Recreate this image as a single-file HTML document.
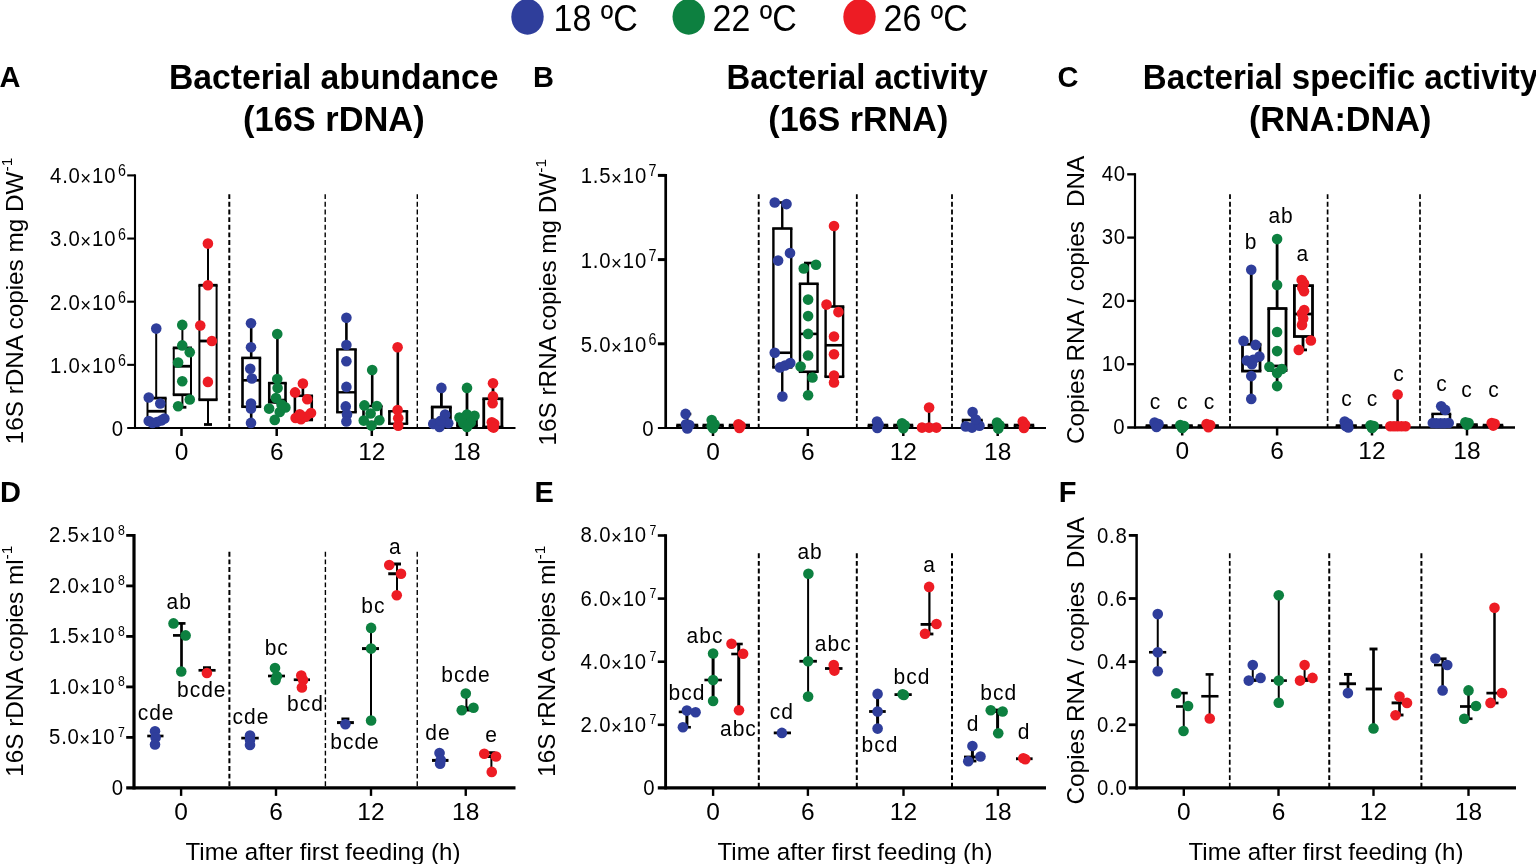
<!DOCTYPE html>
<html lang="en"><head><meta charset="utf-8"><title>Bacterial abundance and activity</title>
<style>
html,body{margin:0;padding:0;background:#fff;}
body{width:1536px;height:864px;overflow:hidden;}
svg{display:block;font-family:'Liberation Sans', sans-serif;}
text{fill:#000;}
</style></head><body>
<svg width="1536" height="864" viewBox="0 0 1536 864">
<rect width="1536" height="864" fill="#fff"/>
<ellipse cx="527.5" cy="16.8" rx="16.2" ry="17.9" fill="#2f3e9b"/>
<ellipse cx="688.7" cy="16.8" rx="16.2" ry="17.9" fill="#0d8040"/>
<ellipse cx="859.5" cy="16.8" rx="16.2" ry="17.9" fill="#ed1c24"/>
<text transform="translate(553.5,30.8) scale(1,1.075)" font-size="34">18 ºC</text>
<text transform="translate(712.5,30.8) scale(1,1.075)" font-size="34">22 ºC</text>
<text transform="translate(883.5,30.8) scale(1,1.075)" font-size="34">26 ºC</text>
<text transform="translate(333.7,89.4) scale(1.006,1.04)" font-size="33.5" text-anchor="middle" font-weight="bold">Bacterial abundance</text>
<text transform="translate(333.85,130.5) scale(1.027,1.04)" font-size="33.5" text-anchor="middle" font-weight="bold">(16S rDNA)</text>
<text transform="translate(857.1,89.4) scale(0.981,1.04)" font-size="33.5" text-anchor="middle" font-weight="bold">Bacterial activity</text>
<text transform="translate(858.3,130.5) scale(1.018,1.04)" font-size="33.5" text-anchor="middle" font-weight="bold">(16S rRNA)</text>
<text transform="translate(1340.55,89.4) scale(0.988,1.04)" font-size="33.5" text-anchor="middle" font-weight="bold">Bacterial specific activity</text>
<text transform="translate(1340.15,130.5) scale(1.022,1.04)" font-size="33.5" text-anchor="middle" font-weight="bold">(RNA:DNA)</text>
<text x="-0.5" y="87" font-size="29" font-weight="bold">A</text>
<text x="533" y="87" font-size="29" font-weight="bold">B</text>
<text x="1057.5" y="87" font-size="29" font-weight="bold">C</text>
<text x="0" y="501.6" font-size="29" font-weight="bold">D</text>
<text x="534.5" y="501.6" font-size="29" font-weight="bold">E</text>
<text x="1058.8" y="501.6" font-size="29" font-weight="bold">F</text>
<line x1="229.3" y1="194.2" x2="229.3" y2="428" stroke="#000" stroke-width="2" stroke-dasharray="4.9 2.75"/>
<line x1="325.2" y1="194.2" x2="325.2" y2="428" stroke="#000" stroke-width="1.4" stroke-dasharray="4.9 2.75"/>
<line x1="417.3" y1="194.2" x2="417.3" y2="428" stroke="#000" stroke-width="1.4" stroke-dasharray="4.9 2.75"/>
<line x1="135" y1="174.35" x2="135" y2="429.05" stroke="#000" stroke-width="2.1"/>
<line x1="127.2" y1="428" x2="515.5" y2="428" stroke="#000" stroke-width="2.1"/>
<text transform="translate(123.8,435.9) scale(0.893,1)" font-size="22.8" text-anchor="end" letter-spacing="0.9">0</text>
<line x1="127.2" y1="364.85" x2="135" y2="364.85" stroke="#000" stroke-width="2.1"/>
<text transform="translate(135,372.75) scale(0.893,1)" font-size="22.8" letter-spacing="0.9" text-anchor="end"><tspan x="-60.8">1.0</tspan><tspan x="-55.21" dy="2" font-size="20.8" letter-spacing="0" text-anchor="middle">×</tspan><tspan x="-20.94" dy="-2">10</tspan><tspan x="-10.25" dy="-6.9" font-size="16" letter-spacing="0">6</tspan></text>
<line x1="127.2" y1="301.7" x2="135" y2="301.7" stroke="#000" stroke-width="2.1"/>
<text transform="translate(135,309.6) scale(0.893,1)" font-size="22.8" letter-spacing="0.9" text-anchor="end"><tspan x="-60.8">2.0</tspan><tspan x="-55.21" dy="2" font-size="20.8" letter-spacing="0" text-anchor="middle">×</tspan><tspan x="-20.94" dy="-2">10</tspan><tspan x="-10.25" dy="-6.9" font-size="16" letter-spacing="0">6</tspan></text>
<line x1="127.2" y1="238.55" x2="135" y2="238.55" stroke="#000" stroke-width="2.1"/>
<text transform="translate(135,246.45) scale(0.893,1)" font-size="22.8" letter-spacing="0.9" text-anchor="end"><tspan x="-60.8">3.0</tspan><tspan x="-55.21" dy="2" font-size="20.8" letter-spacing="0" text-anchor="middle">×</tspan><tspan x="-20.94" dy="-2">10</tspan><tspan x="-10.25" dy="-6.9" font-size="16" letter-spacing="0">6</tspan></text>
<line x1="127.2" y1="175.4" x2="135" y2="175.4" stroke="#000" stroke-width="2.1"/>
<text transform="translate(135,183.3) scale(0.893,1)" font-size="22.8" letter-spacing="0.9" text-anchor="end"><tspan x="-60.8">4.0</tspan><tspan x="-55.21" dy="2" font-size="20.8" letter-spacing="0" text-anchor="middle">×</tspan><tspan x="-20.94" dy="-2">10</tspan><tspan x="-10.25" dy="-6.9" font-size="16" letter-spacing="0">6</tspan></text>
<line x1="181.5" y1="428" x2="181.5" y2="436" stroke="#000" stroke-width="2.5"/>
<text x="181.5" y="459.6" font-size="24.5" text-anchor="middle">0</text>
<line x1="276.7" y1="428" x2="276.7" y2="436" stroke="#000" stroke-width="2.5"/>
<text x="276.7" y="459.6" font-size="24.5" text-anchor="middle">6</text>
<line x1="371.8" y1="428" x2="371.8" y2="436" stroke="#000" stroke-width="2.5"/>
<text x="371.8" y="459.6" font-size="24.5" text-anchor="middle">12</text>
<line x1="466.9" y1="428" x2="466.9" y2="436" stroke="#000" stroke-width="2.5"/>
<text x="466.9" y="459.6" font-size="24.5" text-anchor="middle">18</text>
<text transform="translate(22.5,301) rotate(-90)" font-size="24.3" text-anchor="middle">16S rDNA copies mg DW<tspan font-size="15.5" dy="-10.2">-1</tspan></text>
<line x1="156.2" y1="328.6" x2="156.2" y2="398.1" stroke="#000" stroke-width="2"/>
<line x1="156.2" y1="421" x2="156.2" y2="423" stroke="#000" stroke-width="2"/>
<line x1="152.2" y1="328.6" x2="160.2" y2="328.6" stroke="#000" stroke-width="2.8"/>
<line x1="152.2" y1="423" x2="160.2" y2="423" stroke="#000" stroke-width="2.8"/>
<line x1="147.5" y1="398.1" x2="147.5" y2="421" stroke="#000" stroke-width="2"/>
<line x1="165.6" y1="398.1" x2="165.6" y2="421" stroke="#000" stroke-width="2"/>
<line x1="146.5" y1="398.1" x2="166.6" y2="398.1" stroke="#000" stroke-width="2.8"/>
<line x1="146.5" y1="421" x2="166.6" y2="421" stroke="#000" stroke-width="2.8"/>
<line x1="147.5" y1="411.25" x2="165.6" y2="411.25" stroke="#000" stroke-width="2.8"/>
<line x1="182.4" y1="324.9" x2="182.4" y2="347.9" stroke="#000" stroke-width="2"/>
<line x1="182.4" y1="394.75" x2="182.4" y2="407.25" stroke="#000" stroke-width="2"/>
<line x1="178.4" y1="324.9" x2="186.4" y2="324.9" stroke="#000" stroke-width="2.8"/>
<line x1="178.4" y1="407.25" x2="186.4" y2="407.25" stroke="#000" stroke-width="2.8"/>
<line x1="173.75" y1="347.9" x2="173.75" y2="394.75" stroke="#000" stroke-width="2"/>
<line x1="191" y1="347.9" x2="191" y2="394.75" stroke="#000" stroke-width="2"/>
<line x1="172.75" y1="347.9" x2="192" y2="347.9" stroke="#000" stroke-width="2.8"/>
<line x1="172.75" y1="394.75" x2="192" y2="394.75" stroke="#000" stroke-width="2.8"/>
<line x1="173.75" y1="366.25" x2="191" y2="366.25" stroke="#000" stroke-width="2.8"/>
<line x1="208" y1="243.6" x2="208" y2="285.25" stroke="#000" stroke-width="2"/>
<line x1="208" y1="399.75" x2="208" y2="424.5" stroke="#000" stroke-width="2"/>
<line x1="204" y1="243.6" x2="212" y2="243.6" stroke="#000" stroke-width="2.8"/>
<line x1="204" y1="424.5" x2="212" y2="424.5" stroke="#000" stroke-width="2.8"/>
<line x1="199.4" y1="285.25" x2="199.4" y2="399.75" stroke="#000" stroke-width="2"/>
<line x1="216.6" y1="285.25" x2="216.6" y2="399.75" stroke="#000" stroke-width="2"/>
<line x1="198.4" y1="285.25" x2="217.6" y2="285.25" stroke="#000" stroke-width="2.8"/>
<line x1="198.4" y1="399.75" x2="217.6" y2="399.75" stroke="#000" stroke-width="2.8"/>
<line x1="199.4" y1="341" x2="216.6" y2="341" stroke="#000" stroke-width="2.8"/>
<line x1="251.2" y1="323.25" x2="251.2" y2="357.9" stroke="#000" stroke-width="2.6"/>
<line x1="251.2" y1="406.75" x2="251.2" y2="422.9" stroke="#000" stroke-width="2.6"/>
<line x1="247.2" y1="323.25" x2="255.2" y2="323.25" stroke="#000" stroke-width="2.6"/>
<line x1="247.2" y1="422.9" x2="255.2" y2="422.9" stroke="#000" stroke-width="2.6"/>
<line x1="242.5" y1="357.9" x2="242.5" y2="406.75" stroke="#000" stroke-width="2.6"/>
<line x1="259.9" y1="357.9" x2="259.9" y2="406.75" stroke="#000" stroke-width="2.6"/>
<line x1="241.2" y1="357.9" x2="261.2" y2="357.9" stroke="#000" stroke-width="2.6"/>
<line x1="241.2" y1="406.75" x2="261.2" y2="406.75" stroke="#000" stroke-width="2.6"/>
<line x1="242.5" y1="380.3" x2="259.9" y2="380.3" stroke="#000" stroke-width="2.6"/>
<line x1="277.4" y1="334" x2="277.4" y2="383.1" stroke="#000" stroke-width="2.6"/>
<line x1="277.4" y1="402.3" x2="277.4" y2="402.3" stroke="#000" stroke-width="2.6"/>
<line x1="273.4" y1="334" x2="281.4" y2="334" stroke="#000" stroke-width="2.6"/>
<line x1="273.4" y1="402.3" x2="281.4" y2="402.3" stroke="#000" stroke-width="2.6"/>
<line x1="269.25" y1="383.1" x2="269.25" y2="402.3" stroke="#000" stroke-width="2.6"/>
<line x1="285.5" y1="383.1" x2="285.5" y2="402.3" stroke="#000" stroke-width="2.6"/>
<line x1="267.95" y1="383.1" x2="286.8" y2="383.1" stroke="#000" stroke-width="2.6"/>
<line x1="267.95" y1="402.3" x2="286.8" y2="402.3" stroke="#000" stroke-width="2.6"/>
<line x1="269.25" y1="400" x2="285.5" y2="400" stroke="#000" stroke-width="2.6"/>
<line x1="302.9" y1="383.6" x2="302.9" y2="395.8" stroke="#000" stroke-width="2.6"/>
<line x1="302.9" y1="420" x2="302.9" y2="420" stroke="#000" stroke-width="2.6"/>
<line x1="298.9" y1="383.6" x2="306.9" y2="383.6" stroke="#000" stroke-width="2.6"/>
<line x1="298.9" y1="420" x2="306.9" y2="420" stroke="#000" stroke-width="2.6"/>
<line x1="294.9" y1="395.8" x2="294.9" y2="420" stroke="#000" stroke-width="2.6"/>
<line x1="311.75" y1="395.8" x2="311.75" y2="420" stroke="#000" stroke-width="2.6"/>
<line x1="293.6" y1="395.8" x2="313.05" y2="395.8" stroke="#000" stroke-width="2.6"/>
<line x1="293.6" y1="420" x2="313.05" y2="420" stroke="#000" stroke-width="2.6"/>
<line x1="294.9" y1="414" x2="311.75" y2="414" stroke="#000" stroke-width="2.6"/>
<line x1="346.4" y1="317.75" x2="346.4" y2="349.4" stroke="#000" stroke-width="2.6"/>
<line x1="346.4" y1="412.25" x2="346.4" y2="421.4" stroke="#000" stroke-width="2.6"/>
<line x1="342.4" y1="317.75" x2="350.4" y2="317.75" stroke="#000" stroke-width="2.4"/>
<line x1="342.4" y1="421.4" x2="350.4" y2="421.4" stroke="#000" stroke-width="2.4"/>
<line x1="337.4" y1="349.4" x2="337.4" y2="412.25" stroke="#000" stroke-width="2.6"/>
<line x1="355.5" y1="349.4" x2="355.5" y2="412.25" stroke="#000" stroke-width="2.6"/>
<line x1="336.1" y1="349.4" x2="356.8" y2="349.4" stroke="#000" stroke-width="2.4"/>
<line x1="336.1" y1="412.25" x2="356.8" y2="412.25" stroke="#000" stroke-width="2.4"/>
<line x1="337.4" y1="392.3" x2="355.5" y2="392.3" stroke="#000" stroke-width="2.4"/>
<line x1="372.2" y1="370" x2="372.2" y2="406" stroke="#000" stroke-width="2.6"/>
<line x1="372.2" y1="422" x2="372.2" y2="424" stroke="#000" stroke-width="2.6"/>
<line x1="368.2" y1="370" x2="376.2" y2="370" stroke="#000" stroke-width="2.4"/>
<line x1="368.2" y1="424" x2="376.2" y2="424" stroke="#000" stroke-width="2.4"/>
<line x1="363.5" y1="406" x2="363.5" y2="422" stroke="#000" stroke-width="2.6"/>
<line x1="381.25" y1="406" x2="381.25" y2="422" stroke="#000" stroke-width="2.6"/>
<line x1="362.2" y1="406" x2="382.55" y2="406" stroke="#000" stroke-width="2.4"/>
<line x1="362.2" y1="422" x2="382.55" y2="422" stroke="#000" stroke-width="2.4"/>
<line x1="397.8" y1="347.25" x2="397.8" y2="411.25" stroke="#000" stroke-width="2.6"/>
<line x1="397.8" y1="423.75" x2="397.8" y2="425" stroke="#000" stroke-width="2.6"/>
<line x1="393.8" y1="347.25" x2="401.8" y2="347.25" stroke="#000" stroke-width="2.4"/>
<line x1="393.8" y1="425" x2="401.8" y2="425" stroke="#000" stroke-width="2.4"/>
<line x1="389.4" y1="411.25" x2="389.4" y2="423.75" stroke="#000" stroke-width="2.6"/>
<line x1="406.9" y1="411.25" x2="406.9" y2="423.75" stroke="#000" stroke-width="2.6"/>
<line x1="388.1" y1="411.25" x2="408.2" y2="411.25" stroke="#000" stroke-width="2.4"/>
<line x1="388.1" y1="423.75" x2="408.2" y2="423.75" stroke="#000" stroke-width="2.4"/>
<line x1="441.4" y1="387.9" x2="441.4" y2="407" stroke="#000" stroke-width="2.8"/>
<line x1="441.4" y1="425" x2="441.4" y2="426" stroke="#000" stroke-width="2.8"/>
<line x1="437.4" y1="387.9" x2="445.4" y2="387.9" stroke="#000" stroke-width="2.8"/>
<line x1="437.4" y1="426" x2="445.4" y2="426" stroke="#000" stroke-width="2.8"/>
<line x1="432.25" y1="407" x2="432.25" y2="425" stroke="#000" stroke-width="2.8"/>
<line x1="450.4" y1="407" x2="450.4" y2="425" stroke="#000" stroke-width="2.8"/>
<line x1="430.85" y1="407" x2="451.8" y2="407" stroke="#000" stroke-width="2.8"/>
<line x1="430.85" y1="425" x2="451.8" y2="425" stroke="#000" stroke-width="2.8"/>
<line x1="432.25" y1="420" x2="450.4" y2="420" stroke="#000" stroke-width="2.8"/>
<line x1="467" y1="387.9" x2="467" y2="415" stroke="#000" stroke-width="2.8"/>
<line x1="467" y1="426" x2="467" y2="426" stroke="#000" stroke-width="2.8"/>
<line x1="463" y1="387.9" x2="471" y2="387.9" stroke="#000" stroke-width="2.8"/>
<line x1="463" y1="426" x2="471" y2="426" stroke="#000" stroke-width="2.8"/>
<line x1="457.6" y1="415" x2="457.6" y2="426" stroke="#000" stroke-width="2.8"/>
<line x1="476.4" y1="415" x2="476.4" y2="426" stroke="#000" stroke-width="2.8"/>
<line x1="456.2" y1="415" x2="477.8" y2="415" stroke="#000" stroke-width="2.8"/>
<line x1="456.2" y1="426" x2="477.8" y2="426" stroke="#000" stroke-width="2.8"/>
<line x1="457.6" y1="420" x2="476.4" y2="420" stroke="#000" stroke-width="2.8"/>
<line x1="493" y1="383.25" x2="493" y2="398.75" stroke="#000" stroke-width="2.8"/>
<line x1="493" y1="427" x2="493" y2="427" stroke="#000" stroke-width="2.8"/>
<line x1="489" y1="383.25" x2="497" y2="383.25" stroke="#000" stroke-width="2.8"/>
<line x1="489" y1="427" x2="497" y2="427" stroke="#000" stroke-width="2.8"/>
<line x1="483.75" y1="398.75" x2="483.75" y2="427" stroke="#000" stroke-width="2.8"/>
<line x1="501.9" y1="398.75" x2="501.9" y2="427" stroke="#000" stroke-width="2.8"/>
<line x1="482.35" y1="398.75" x2="503.3" y2="398.75" stroke="#000" stroke-width="2.8"/>
<line x1="482.35" y1="427" x2="503.3" y2="427" stroke="#000" stroke-width="2.8"/>
<circle cx="156.25" cy="328.6" r="5.3" fill="#2f3e9b"/>
<circle cx="148.75" cy="397.5" r="5.3" fill="#2f3e9b"/>
<circle cx="160.25" cy="403.5" r="5.3" fill="#2f3e9b"/>
<circle cx="148.75" cy="421" r="5.3" fill="#2f3e9b"/>
<circle cx="152.5" cy="422.9" r="5.3" fill="#2f3e9b"/>
<circle cx="157" cy="422" r="5.3" fill="#2f3e9b"/>
<circle cx="161.25" cy="420.4" r="5.3" fill="#2f3e9b"/>
<circle cx="164.4" cy="418.5" r="5.3" fill="#2f3e9b"/>
<circle cx="182.25" cy="324.9" r="5.3" fill="#0d8040"/>
<circle cx="182.25" cy="345.4" r="5.3" fill="#0d8040"/>
<circle cx="189.75" cy="352.25" r="5.3" fill="#0d8040"/>
<circle cx="178.1" cy="362.6" r="5.3" fill="#0d8040"/>
<circle cx="182.25" cy="381.25" r="5.3" fill="#0d8040"/>
<circle cx="189.75" cy="399.5" r="5.3" fill="#0d8040"/>
<circle cx="178.1" cy="406.25" r="5.3" fill="#0d8040"/>
<circle cx="207.9" cy="243.6" r="5.3" fill="#ed1c24"/>
<circle cx="207.9" cy="285.25" r="5.3" fill="#ed1c24"/>
<circle cx="200.25" cy="325.5" r="5.3" fill="#ed1c24"/>
<circle cx="211.9" cy="341" r="5.3" fill="#ed1c24"/>
<circle cx="207.9" cy="381.9" r="5.3" fill="#ed1c24"/>
<circle cx="251" cy="323.25" r="5.3" fill="#2f3e9b"/>
<circle cx="251" cy="347.25" r="5.3" fill="#2f3e9b"/>
<circle cx="250.25" cy="368.75" r="5.3" fill="#2f3e9b"/>
<circle cx="251.9" cy="378.5" r="5.3" fill="#2f3e9b"/>
<circle cx="251" cy="403.5" r="5.3" fill="#2f3e9b"/>
<circle cx="251" cy="408.5" r="5.3" fill="#2f3e9b"/>
<circle cx="251" cy="422.9" r="5.3" fill="#2f3e9b"/>
<circle cx="277.25" cy="334" r="5.3" fill="#0d8040"/>
<circle cx="277.25" cy="379" r="5.3" fill="#0d8040"/>
<circle cx="277.6" cy="388" r="5.3" fill="#0d8040"/>
<circle cx="276" cy="398" r="5.3" fill="#0d8040"/>
<circle cx="269.1" cy="408.6" r="5.3" fill="#0d8040"/>
<circle cx="285.4" cy="407.4" r="5.3" fill="#0d8040"/>
<circle cx="279.75" cy="412" r="5.3" fill="#0d8040"/>
<circle cx="274.75" cy="419.9" r="5.3" fill="#0d8040"/>
<circle cx="281.5" cy="404.5" r="5.3" fill="#0d8040"/>
<circle cx="302.9" cy="383.6" r="5.3" fill="#ed1c24"/>
<circle cx="295.1" cy="392.4" r="5.3" fill="#ed1c24"/>
<circle cx="307.25" cy="399.25" r="5.3" fill="#ed1c24"/>
<circle cx="295.6" cy="418" r="5.3" fill="#ed1c24"/>
<circle cx="301" cy="419.25" r="5.3" fill="#ed1c24"/>
<circle cx="305.4" cy="416.75" r="5.3" fill="#ed1c24"/>
<circle cx="311" cy="413" r="5.3" fill="#ed1c24"/>
<circle cx="299.75" cy="414.25" r="5.3" fill="#ed1c24"/>
<circle cx="346.4" cy="317.75" r="5.3" fill="#2f3e9b"/>
<circle cx="346.4" cy="345" r="5.3" fill="#2f3e9b"/>
<circle cx="346.4" cy="361.25" r="5.3" fill="#2f3e9b"/>
<circle cx="346.4" cy="386.9" r="5.3" fill="#2f3e9b"/>
<circle cx="345.75" cy="406.4" r="5.3" fill="#2f3e9b"/>
<circle cx="347" cy="414.5" r="5.3" fill="#2f3e9b"/>
<circle cx="346.4" cy="421.4" r="5.3" fill="#2f3e9b"/>
<circle cx="372.2" cy="370" r="5.3" fill="#0d8040"/>
<circle cx="364.4" cy="405.4" r="5.3" fill="#0d8040"/>
<circle cx="376.9" cy="406" r="5.3" fill="#0d8040"/>
<circle cx="370.6" cy="413.5" r="5.3" fill="#0d8040"/>
<circle cx="363.75" cy="420.6" r="5.3" fill="#0d8040"/>
<circle cx="379.4" cy="420.25" r="5.3" fill="#0d8040"/>
<circle cx="371.5" cy="425.6" r="5.3" fill="#0d8040"/>
<circle cx="397.6" cy="347.25" r="5.3" fill="#ed1c24"/>
<circle cx="397.6" cy="410" r="5.3" fill="#ed1c24"/>
<circle cx="398.25" cy="418.25" r="5.3" fill="#ed1c24"/>
<circle cx="398.25" cy="425.75" r="5.3" fill="#ed1c24"/>
<circle cx="441.4" cy="387.9" r="5.3" fill="#2f3e9b"/>
<circle cx="445.1" cy="414.5" r="5.3" fill="#2f3e9b"/>
<circle cx="433.25" cy="423.9" r="5.3" fill="#2f3e9b"/>
<circle cx="439.5" cy="427" r="5.3" fill="#2f3e9b"/>
<circle cx="448.25" cy="423.25" r="5.3" fill="#2f3e9b"/>
<circle cx="440.75" cy="420.75" r="5.3" fill="#2f3e9b"/>
<circle cx="467" cy="387.9" r="5.3" fill="#0d8040"/>
<circle cx="459.5" cy="417.6" r="5.3" fill="#0d8040"/>
<circle cx="467" cy="414.5" r="5.3" fill="#0d8040"/>
<circle cx="474.5" cy="415.75" r="5.3" fill="#0d8040"/>
<circle cx="463.25" cy="423.25" r="5.3" fill="#0d8040"/>
<circle cx="470.75" cy="422.6" r="5.3" fill="#0d8040"/>
<circle cx="467" cy="427" r="5.3" fill="#0d8040"/>
<circle cx="493" cy="383.25" r="5.3" fill="#ed1c24"/>
<circle cx="493" cy="396.4" r="5.3" fill="#ed1c24"/>
<circle cx="492.6" cy="403.25" r="5.3" fill="#ed1c24"/>
<circle cx="491.8" cy="422.3" r="5.3" fill="#ed1c24"/>
<circle cx="494.2" cy="423.8" r="5.3" fill="#ed1c24"/>
<circle cx="492.4" cy="426.8" r="5.3" fill="#ed1c24"/>
<circle cx="493.6" cy="427.6" r="5.3" fill="#ed1c24"/>
<line x1="758.7" y1="194.2" x2="758.7" y2="428" stroke="#000" stroke-width="1.9" stroke-dasharray="4.9 2.75"/>
<line x1="856.8" y1="194.2" x2="856.8" y2="428" stroke="#000" stroke-width="1.8" stroke-dasharray="4.9 2.75"/>
<line x1="952" y1="194.2" x2="952" y2="428" stroke="#000" stroke-width="1.8" stroke-dasharray="4.9 2.75"/>
<line x1="665.7" y1="173.9" x2="665.7" y2="429.05" stroke="#000" stroke-width="2.7"/>
<line x1="657.9" y1="428" x2="1046" y2="428" stroke="#000" stroke-width="2.1"/>
<text transform="translate(654.5,435.9) scale(0.893,1)" font-size="22.8" text-anchor="end" letter-spacing="0.9">0</text>
<line x1="657.9" y1="343.8" x2="665.7" y2="343.8" stroke="#000" stroke-width="3"/>
<text transform="translate(665.7,351.7) scale(0.893,1)" font-size="22.8" letter-spacing="0.9" text-anchor="end"><tspan x="-60.8">5.0</tspan><tspan x="-55.21" dy="2" font-size="20.8" letter-spacing="0" text-anchor="middle">×</tspan><tspan x="-20.94" dy="-2">10</tspan><tspan x="-10.25" dy="-6.9" font-size="16" letter-spacing="0">6</tspan></text>
<line x1="657.9" y1="259.6" x2="665.7" y2="259.6" stroke="#000" stroke-width="3"/>
<text transform="translate(665.7,267.5) scale(0.893,1)" font-size="22.8" letter-spacing="0.9" text-anchor="end"><tspan x="-60.8">1.0</tspan><tspan x="-55.21" dy="2" font-size="20.8" letter-spacing="0" text-anchor="middle">×</tspan><tspan x="-20.94" dy="-2">10</tspan><tspan x="-10.25" dy="-6.9" font-size="16" letter-spacing="0">7</tspan></text>
<line x1="657.9" y1="175.4" x2="665.7" y2="175.4" stroke="#000" stroke-width="3"/>
<text transform="translate(665.7,183.3) scale(0.893,1)" font-size="22.8" letter-spacing="0.9" text-anchor="end"><tspan x="-60.8">1.5</tspan><tspan x="-55.21" dy="2" font-size="20.8" letter-spacing="0" text-anchor="middle">×</tspan><tspan x="-20.94" dy="-2">10</tspan><tspan x="-10.25" dy="-6.9" font-size="16" letter-spacing="0">7</tspan></text>
<line x1="713" y1="428" x2="713" y2="436" stroke="#000" stroke-width="2.5"/>
<text x="713" y="459.6" font-size="24.5" text-anchor="middle">0</text>
<line x1="807.8" y1="428" x2="807.8" y2="436" stroke="#000" stroke-width="2.5"/>
<text x="807.8" y="459.6" font-size="24.5" text-anchor="middle">6</text>
<line x1="903.3" y1="428" x2="903.3" y2="436" stroke="#000" stroke-width="2.5"/>
<text x="903.3" y="459.6" font-size="24.5" text-anchor="middle">12</text>
<line x1="997.7" y1="428" x2="997.7" y2="436" stroke="#000" stroke-width="2.5"/>
<text x="997.7" y="459.6" font-size="24.5" text-anchor="middle">18</text>
<text transform="translate(555.9,302.2) rotate(-90)" font-size="24.3" text-anchor="middle">16S rRNA copies mg DW<tspan font-size="15.5" dy="-10.2">-1</tspan></text>
<line x1="687.3" y1="414" x2="687.3" y2="425" stroke="#000" stroke-width="2.4"/>
<line x1="687.3" y1="427.5" x2="687.3" y2="427.5" stroke="#000" stroke-width="2.4"/>
<line x1="683.3" y1="414" x2="691.3" y2="414" stroke="#000" stroke-width="2.6"/>
<line x1="683.3" y1="427.5" x2="691.3" y2="427.5" stroke="#000" stroke-width="2.6"/>
<line x1="677.5" y1="425" x2="677.5" y2="427.5" stroke="#000" stroke-width="2.4"/>
<line x1="697" y1="425" x2="697" y2="427.5" stroke="#000" stroke-width="2.4"/>
<line x1="676.3" y1="425" x2="698.2" y2="425" stroke="#000" stroke-width="2.6"/>
<line x1="676.3" y1="427.5" x2="698.2" y2="427.5" stroke="#000" stroke-width="2.6"/>
<line x1="713" y1="425" x2="713" y2="425" stroke="#000" stroke-width="2.4"/>
<line x1="713" y1="427.5" x2="713" y2="427.5" stroke="#000" stroke-width="2.4"/>
<line x1="709" y1="425" x2="717" y2="425" stroke="#000" stroke-width="2.6"/>
<line x1="709" y1="427.5" x2="717" y2="427.5" stroke="#000" stroke-width="2.6"/>
<line x1="703.75" y1="425" x2="703.75" y2="427.5" stroke="#000" stroke-width="2.4"/>
<line x1="722.5" y1="425" x2="722.5" y2="427.5" stroke="#000" stroke-width="2.4"/>
<line x1="702.55" y1="425" x2="723.7" y2="425" stroke="#000" stroke-width="2.6"/>
<line x1="702.55" y1="427.5" x2="723.7" y2="427.5" stroke="#000" stroke-width="2.6"/>
<line x1="739.4" y1="425" x2="739.4" y2="425" stroke="#000" stroke-width="2.4"/>
<line x1="739.4" y1="427.5" x2="739.4" y2="427.5" stroke="#000" stroke-width="2.4"/>
<line x1="735.4" y1="425" x2="743.4" y2="425" stroke="#000" stroke-width="2.6"/>
<line x1="735.4" y1="427.5" x2="743.4" y2="427.5" stroke="#000" stroke-width="2.6"/>
<line x1="730" y1="425" x2="730" y2="427.5" stroke="#000" stroke-width="2.4"/>
<line x1="748.75" y1="425" x2="748.75" y2="427.5" stroke="#000" stroke-width="2.4"/>
<line x1="728.8" y1="425" x2="749.95" y2="425" stroke="#000" stroke-width="2.6"/>
<line x1="728.8" y1="427.5" x2="749.95" y2="427.5" stroke="#000" stroke-width="2.6"/>
<line x1="782.25" y1="202.5" x2="782.25" y2="228.5" stroke="#000" stroke-width="2.4"/>
<line x1="782.25" y1="367.4" x2="782.25" y2="396" stroke="#000" stroke-width="2.4"/>
<line x1="778.25" y1="202.5" x2="786.25" y2="202.5" stroke="#000" stroke-width="2.6"/>
<line x1="778.25" y1="396" x2="786.25" y2="396" stroke="#000" stroke-width="2.6"/>
<line x1="773.4" y1="228.5" x2="773.4" y2="367.4" stroke="#000" stroke-width="2.4"/>
<line x1="791.25" y1="228.5" x2="791.25" y2="367.4" stroke="#000" stroke-width="2.4"/>
<line x1="772.2" y1="228.5" x2="792.45" y2="228.5" stroke="#000" stroke-width="2.6"/>
<line x1="772.2" y1="367.4" x2="792.45" y2="367.4" stroke="#000" stroke-width="2.6"/>
<line x1="773.4" y1="352.75" x2="791.25" y2="352.75" stroke="#000" stroke-width="2.6"/>
<line x1="808" y1="263" x2="808" y2="283.75" stroke="#000" stroke-width="2.4"/>
<line x1="808" y1="371.75" x2="808" y2="395" stroke="#000" stroke-width="2.4"/>
<line x1="804" y1="263" x2="812" y2="263" stroke="#000" stroke-width="2.6"/>
<line x1="804" y1="395" x2="812" y2="395" stroke="#000" stroke-width="2.6"/>
<line x1="800" y1="283.75" x2="800" y2="371.75" stroke="#000" stroke-width="2.4"/>
<line x1="817.5" y1="283.75" x2="817.5" y2="371.75" stroke="#000" stroke-width="2.4"/>
<line x1="798.8" y1="283.75" x2="818.7" y2="283.75" stroke="#000" stroke-width="2.6"/>
<line x1="798.8" y1="371.75" x2="818.7" y2="371.75" stroke="#000" stroke-width="2.6"/>
<line x1="800" y1="333.9" x2="817.5" y2="333.9" stroke="#000" stroke-width="2.6"/>
<line x1="834.3" y1="226" x2="834.3" y2="306.5" stroke="#000" stroke-width="2.4"/>
<line x1="834.3" y1="376.75" x2="834.3" y2="382.5" stroke="#000" stroke-width="2.4"/>
<line x1="830.3" y1="226" x2="838.3" y2="226" stroke="#000" stroke-width="2.6"/>
<line x1="830.3" y1="382.5" x2="838.3" y2="382.5" stroke="#000" stroke-width="2.6"/>
<line x1="825.6" y1="306.5" x2="825.6" y2="376.75" stroke="#000" stroke-width="2.4"/>
<line x1="843.1" y1="306.5" x2="843.1" y2="376.75" stroke="#000" stroke-width="2.4"/>
<line x1="824.4" y1="306.5" x2="844.3" y2="306.5" stroke="#000" stroke-width="2.6"/>
<line x1="824.4" y1="376.75" x2="844.3" y2="376.75" stroke="#000" stroke-width="2.6"/>
<line x1="825.6" y1="345.25" x2="843.1" y2="345.25" stroke="#000" stroke-width="2.6"/>
<line x1="877.6" y1="425" x2="877.6" y2="425" stroke="#000" stroke-width="2.4"/>
<line x1="877.6" y1="427.5" x2="877.6" y2="427.5" stroke="#000" stroke-width="2.4"/>
<line x1="873.6" y1="425" x2="881.6" y2="425" stroke="#000" stroke-width="2.6"/>
<line x1="873.6" y1="427.5" x2="881.6" y2="427.5" stroke="#000" stroke-width="2.6"/>
<line x1="868.9" y1="425" x2="868.9" y2="427.5" stroke="#000" stroke-width="2.4"/>
<line x1="887" y1="425" x2="887" y2="427.5" stroke="#000" stroke-width="2.4"/>
<line x1="867.7" y1="425" x2="888.2" y2="425" stroke="#000" stroke-width="2.6"/>
<line x1="867.7" y1="427.5" x2="888.2" y2="427.5" stroke="#000" stroke-width="2.6"/>
<line x1="903.25" y1="425" x2="903.25" y2="425" stroke="#000" stroke-width="2.4"/>
<line x1="903.25" y1="427.5" x2="903.25" y2="427.5" stroke="#000" stroke-width="2.4"/>
<line x1="899.25" y1="425" x2="907.25" y2="425" stroke="#000" stroke-width="2.6"/>
<line x1="899.25" y1="427.5" x2="907.25" y2="427.5" stroke="#000" stroke-width="2.6"/>
<line x1="894.5" y1="425" x2="894.5" y2="427.5" stroke="#000" stroke-width="2.4"/>
<line x1="912" y1="425" x2="912" y2="427.5" stroke="#000" stroke-width="2.4"/>
<line x1="893.3" y1="425" x2="913.2" y2="425" stroke="#000" stroke-width="2.6"/>
<line x1="893.3" y1="427.5" x2="913.2" y2="427.5" stroke="#000" stroke-width="2.6"/>
<line x1="929.1" y1="407.6" x2="929.1" y2="425" stroke="#000" stroke-width="2.4"/>
<line x1="929.1" y1="427.5" x2="929.1" y2="427.5" stroke="#000" stroke-width="2.4"/>
<line x1="925.1" y1="407.6" x2="933.1" y2="407.6" stroke="#000" stroke-width="2.6"/>
<line x1="925.1" y1="427.5" x2="933.1" y2="427.5" stroke="#000" stroke-width="2.6"/>
<line x1="920" y1="425" x2="920" y2="427.5" stroke="#000" stroke-width="2.4"/>
<line x1="938" y1="425" x2="938" y2="427.5" stroke="#000" stroke-width="2.4"/>
<line x1="918.8" y1="425" x2="939.2" y2="425" stroke="#000" stroke-width="2.6"/>
<line x1="918.8" y1="427.5" x2="939.2" y2="427.5" stroke="#000" stroke-width="2.6"/>
<line x1="972.6" y1="412" x2="972.6" y2="420" stroke="#000" stroke-width="2.4"/>
<line x1="972.6" y1="427" x2="972.6" y2="427" stroke="#000" stroke-width="2.4"/>
<line x1="968.6" y1="412" x2="976.6" y2="412" stroke="#000" stroke-width="2.6"/>
<line x1="968.6" y1="427" x2="976.6" y2="427" stroke="#000" stroke-width="2.6"/>
<line x1="963" y1="420" x2="963" y2="427" stroke="#000" stroke-width="2.4"/>
<line x1="981.5" y1="420" x2="981.5" y2="427" stroke="#000" stroke-width="2.4"/>
<line x1="961.8" y1="420" x2="982.7" y2="420" stroke="#000" stroke-width="2.6"/>
<line x1="961.8" y1="427" x2="982.7" y2="427" stroke="#000" stroke-width="2.6"/>
<line x1="963" y1="424" x2="981.5" y2="424" stroke="#000" stroke-width="2.6"/>
<line x1="998.25" y1="425" x2="998.25" y2="425" stroke="#000" stroke-width="2.4"/>
<line x1="998.25" y1="427.5" x2="998.25" y2="427.5" stroke="#000" stroke-width="2.4"/>
<line x1="994.25" y1="425" x2="1002.25" y2="425" stroke="#000" stroke-width="2.6"/>
<line x1="994.25" y1="427.5" x2="1002.25" y2="427.5" stroke="#000" stroke-width="2.6"/>
<line x1="989" y1="425" x2="989" y2="427.5" stroke="#000" stroke-width="2.4"/>
<line x1="1007" y1="425" x2="1007" y2="427.5" stroke="#000" stroke-width="2.4"/>
<line x1="987.8" y1="425" x2="1008.2" y2="425" stroke="#000" stroke-width="2.6"/>
<line x1="987.8" y1="427.5" x2="1008.2" y2="427.5" stroke="#000" stroke-width="2.6"/>
<line x1="1023.9" y1="425" x2="1023.9" y2="425" stroke="#000" stroke-width="2.4"/>
<line x1="1023.9" y1="427.5" x2="1023.9" y2="427.5" stroke="#000" stroke-width="2.4"/>
<line x1="1019.9" y1="425" x2="1027.9" y2="425" stroke="#000" stroke-width="2.6"/>
<line x1="1019.9" y1="427.5" x2="1027.9" y2="427.5" stroke="#000" stroke-width="2.6"/>
<line x1="1015" y1="425" x2="1015" y2="427.5" stroke="#000" stroke-width="2.4"/>
<line x1="1033" y1="425" x2="1033" y2="427.5" stroke="#000" stroke-width="2.4"/>
<line x1="1013.8" y1="425" x2="1034.2" y2="425" stroke="#000" stroke-width="2.6"/>
<line x1="1013.8" y1="427.5" x2="1034.2" y2="427.5" stroke="#000" stroke-width="2.6"/>
<circle cx="685.6" cy="413.9" r="5.3" fill="#2f3e9b"/>
<circle cx="686" cy="424.3" r="5.3" fill="#2f3e9b"/>
<circle cx="689.3" cy="425" r="5.3" fill="#2f3e9b"/>
<circle cx="687.3" cy="428.5" r="5.3" fill="#2f3e9b"/>
<circle cx="711.7" cy="420" r="5.3" fill="#0d8040"/>
<circle cx="714.5" cy="424.3" r="5.3" fill="#0d8040"/>
<circle cx="711.6" cy="426" r="5.3" fill="#0d8040"/>
<circle cx="713" cy="428.3" r="5.3" fill="#0d8040"/>
<circle cx="738.4" cy="424.3" r="5.3" fill="#ed1c24"/>
<circle cx="740.6" cy="425.8" r="5.3" fill="#ed1c24"/>
<circle cx="739.4" cy="428" r="5.3" fill="#ed1c24"/>
<circle cx="774.75" cy="202.5" r="5.3" fill="#2f3e9b"/>
<circle cx="786.5" cy="204.1" r="5.3" fill="#2f3e9b"/>
<circle cx="790" cy="253.1" r="5.3" fill="#2f3e9b"/>
<circle cx="778.1" cy="260.6" r="5.3" fill="#2f3e9b"/>
<circle cx="774.75" cy="352.75" r="5.3" fill="#2f3e9b"/>
<circle cx="780" cy="367.4" r="5.3" fill="#2f3e9b"/>
<circle cx="785" cy="365.5" r="5.3" fill="#2f3e9b"/>
<circle cx="790.25" cy="363" r="5.3" fill="#2f3e9b"/>
<circle cx="782.4" cy="396.5" r="5.3" fill="#2f3e9b"/>
<circle cx="803.75" cy="268.5" r="5.3" fill="#0d8040"/>
<circle cx="816" cy="264.75" r="5.3" fill="#0d8040"/>
<circle cx="808.1" cy="299.6" r="5.3" fill="#0d8040"/>
<circle cx="808.1" cy="316.1" r="5.3" fill="#0d8040"/>
<circle cx="808.1" cy="333.9" r="5.3" fill="#0d8040"/>
<circle cx="808.1" cy="355.5" r="5.3" fill="#0d8040"/>
<circle cx="800.6" cy="366.5" r="5.3" fill="#0d8040"/>
<circle cx="812.5" cy="377.5" r="5.3" fill="#0d8040"/>
<circle cx="808.1" cy="395.2" r="5.3" fill="#0d8040"/>
<circle cx="834" cy="226" r="5.3" fill="#ed1c24"/>
<circle cx="826.5" cy="304.6" r="5.3" fill="#ed1c24"/>
<circle cx="838.4" cy="312.1" r="5.3" fill="#ed1c24"/>
<circle cx="834" cy="336.5" r="5.3" fill="#ed1c24"/>
<circle cx="834" cy="354.25" r="5.3" fill="#ed1c24"/>
<circle cx="834" cy="375.5" r="5.3" fill="#ed1c24"/>
<circle cx="834" cy="382.5" r="5.3" fill="#ed1c24"/>
<circle cx="877" cy="421.5" r="5.3" fill="#2f3e9b"/>
<circle cx="878.6" cy="424.5" r="5.3" fill="#2f3e9b"/>
<circle cx="877.3" cy="428" r="5.3" fill="#2f3e9b"/>
<circle cx="902" cy="423.3" r="5.3" fill="#0d8040"/>
<circle cx="904.7" cy="425.3" r="5.3" fill="#0d8040"/>
<circle cx="903.3" cy="428.3" r="5.3" fill="#0d8040"/>
<circle cx="929.1" cy="407.6" r="5.3" fill="#ed1c24"/>
<circle cx="922" cy="427.6" r="5.3" fill="#ed1c24"/>
<circle cx="929.1" cy="427.6" r="5.3" fill="#ed1c24"/>
<circle cx="936.4" cy="427.6" r="5.3" fill="#ed1c24"/>
<circle cx="972.6" cy="412" r="5.3" fill="#2f3e9b"/>
<circle cx="965.75" cy="426.4" r="5.3" fill="#2f3e9b"/>
<circle cx="972" cy="427.6" r="5.3" fill="#2f3e9b"/>
<circle cx="979.5" cy="425.75" r="5.3" fill="#2f3e9b"/>
<circle cx="975.75" cy="419.5" r="5.3" fill="#2f3e9b"/>
<circle cx="997" cy="422.6" r="5.3" fill="#0d8040"/>
<circle cx="999.6" cy="425.3" r="5.3" fill="#0d8040"/>
<circle cx="998.3" cy="428.6" r="5.3" fill="#0d8040"/>
<circle cx="1022.8" cy="421.6" r="5.3" fill="#ed1c24"/>
<circle cx="1025" cy="424.5" r="5.3" fill="#ed1c24"/>
<circle cx="1023.9" cy="428" r="5.3" fill="#ed1c24"/>
<line x1="1230" y1="194.2" x2="1230" y2="427.5" stroke="#000" stroke-width="1.8" stroke-dasharray="4.9 2.75"/>
<line x1="1327.6" y1="194.2" x2="1327.6" y2="427.5" stroke="#000" stroke-width="1.7" stroke-dasharray="4.9 2.75"/>
<line x1="1420" y1="194.2" x2="1420" y2="427.5" stroke="#000" stroke-width="1.7" stroke-dasharray="4.9 2.75"/>
<line x1="1135" y1="173.15" x2="1135" y2="428.65" stroke="#000" stroke-width="2.2"/>
<line x1="1127.2" y1="427.5" x2="1515" y2="427.5" stroke="#000" stroke-width="2.3"/>
<text transform="translate(1125.3,434.1) scale(0.893,1)" font-size="22.8" text-anchor="end" letter-spacing="0.9">0</text>
<line x1="1127.2" y1="364.2" x2="1135" y2="364.2" stroke="#000" stroke-width="2.3"/>
<text transform="translate(1126,370.8) scale(0.893,1)" font-size="22.8" text-anchor="end" letter-spacing="0.9">10</text>
<line x1="1127.2" y1="300.9" x2="1135" y2="300.9" stroke="#000" stroke-width="2.3"/>
<text transform="translate(1126,307.5) scale(0.893,1)" font-size="22.8" text-anchor="end" letter-spacing="0.9">20</text>
<line x1="1127.2" y1="237.6" x2="1135" y2="237.6" stroke="#000" stroke-width="2.3"/>
<text transform="translate(1126,244.2) scale(0.893,1)" font-size="22.8" text-anchor="end" letter-spacing="0.9">30</text>
<line x1="1127.2" y1="174.3" x2="1135" y2="174.3" stroke="#000" stroke-width="2.3"/>
<text transform="translate(1126,180.9) scale(0.893,1)" font-size="22.8" text-anchor="end" letter-spacing="0.9">40</text>
<line x1="1182.2" y1="427.5" x2="1182.2" y2="435.5" stroke="#000" stroke-width="2.5"/>
<text x="1182.2" y="459.1" font-size="24.5" text-anchor="middle">0</text>
<line x1="1277.1" y1="427.5" x2="1277.1" y2="435.5" stroke="#000" stroke-width="2.5"/>
<text x="1277.1" y="459.1" font-size="24.5" text-anchor="middle">6</text>
<line x1="1372" y1="427.5" x2="1372" y2="435.5" stroke="#000" stroke-width="2.5"/>
<text x="1372" y="459.1" font-size="24.5" text-anchor="middle">12</text>
<line x1="1467" y1="427.5" x2="1467" y2="435.5" stroke="#000" stroke-width="2.5"/>
<text x="1467" y="459.1" font-size="24.5" text-anchor="middle">18</text>
<text transform="translate(1083.5,299.8) rotate(-90)" font-size="24.3" text-anchor="middle">Copies RNA / copies <tspan dx="7.4">DNA</tspan></text>
<line x1="1156.25" y1="425.5" x2="1156.25" y2="425.5" stroke="#000" stroke-width="2.5"/>
<line x1="1156.25" y1="427" x2="1156.25" y2="427" stroke="#000" stroke-width="2.5"/>
<line x1="1152.25" y1="425.5" x2="1160.25" y2="425.5" stroke="#000" stroke-width="2.5"/>
<line x1="1152.25" y1="427" x2="1160.25" y2="427" stroke="#000" stroke-width="2.5"/>
<line x1="1146.9" y1="425.5" x2="1146.9" y2="427" stroke="#000" stroke-width="2.5"/>
<line x1="1166.25" y1="425.5" x2="1166.25" y2="427" stroke="#000" stroke-width="2.5"/>
<line x1="1145.65" y1="425.5" x2="1167.5" y2="425.5" stroke="#000" stroke-width="2.5"/>
<line x1="1145.65" y1="427" x2="1167.5" y2="427" stroke="#000" stroke-width="2.5"/>
<line x1="1182.25" y1="425.5" x2="1182.25" y2="425.5" stroke="#000" stroke-width="2.5"/>
<line x1="1182.25" y1="427" x2="1182.25" y2="427" stroke="#000" stroke-width="2.5"/>
<line x1="1178.25" y1="425.5" x2="1186.25" y2="425.5" stroke="#000" stroke-width="2.5"/>
<line x1="1178.25" y1="427" x2="1186.25" y2="427" stroke="#000" stroke-width="2.5"/>
<line x1="1173" y1="425.5" x2="1173" y2="427" stroke="#000" stroke-width="2.5"/>
<line x1="1191.5" y1="425.5" x2="1191.5" y2="427" stroke="#000" stroke-width="2.5"/>
<line x1="1171.75" y1="425.5" x2="1192.75" y2="425.5" stroke="#000" stroke-width="2.5"/>
<line x1="1171.75" y1="427" x2="1192.75" y2="427" stroke="#000" stroke-width="2.5"/>
<line x1="1208.1" y1="425.5" x2="1208.1" y2="425.5" stroke="#000" stroke-width="2.5"/>
<line x1="1208.1" y1="427" x2="1208.1" y2="427" stroke="#000" stroke-width="2.5"/>
<line x1="1204.1" y1="425.5" x2="1212.1" y2="425.5" stroke="#000" stroke-width="2.5"/>
<line x1="1204.1" y1="427" x2="1212.1" y2="427" stroke="#000" stroke-width="2.5"/>
<line x1="1199" y1="425.5" x2="1199" y2="427" stroke="#000" stroke-width="2.5"/>
<line x1="1217.5" y1="425.5" x2="1217.5" y2="427" stroke="#000" stroke-width="2.5"/>
<line x1="1197.75" y1="425.5" x2="1218.75" y2="425.5" stroke="#000" stroke-width="2.5"/>
<line x1="1197.75" y1="427" x2="1218.75" y2="427" stroke="#000" stroke-width="2.5"/>
<line x1="1251.25" y1="269.75" x2="1251.25" y2="344.25" stroke="#000" stroke-width="2.8"/>
<line x1="1251.25" y1="371.1" x2="1251.25" y2="398.9" stroke="#000" stroke-width="2.8"/>
<line x1="1247.25" y1="269.75" x2="1255.25" y2="269.75" stroke="#000" stroke-width="2.8"/>
<line x1="1247.25" y1="398.9" x2="1255.25" y2="398.9" stroke="#000" stroke-width="2.8"/>
<line x1="1242.5" y1="344.25" x2="1242.5" y2="371.1" stroke="#000" stroke-width="2.8"/>
<line x1="1260" y1="344.25" x2="1260" y2="371.1" stroke="#000" stroke-width="2.8"/>
<line x1="1241.1" y1="344.25" x2="1261.4" y2="344.25" stroke="#000" stroke-width="2.8"/>
<line x1="1241.1" y1="371.1" x2="1261.4" y2="371.1" stroke="#000" stroke-width="2.8"/>
<line x1="1242.5" y1="360.5" x2="1260" y2="360.5" stroke="#000" stroke-width="2.8"/>
<line x1="1277.1" y1="239.1" x2="1277.1" y2="308.5" stroke="#000" stroke-width="2.8"/>
<line x1="1277.1" y1="370.5" x2="1277.1" y2="386.1" stroke="#000" stroke-width="2.8"/>
<line x1="1273.1" y1="239.1" x2="1281.1" y2="239.1" stroke="#000" stroke-width="2.8"/>
<line x1="1273.1" y1="386.1" x2="1281.1" y2="386.1" stroke="#000" stroke-width="2.8"/>
<line x1="1268.75" y1="308.5" x2="1268.75" y2="370.5" stroke="#000" stroke-width="2.8"/>
<line x1="1286" y1="308.5" x2="1286" y2="370.5" stroke="#000" stroke-width="2.8"/>
<line x1="1267.35" y1="308.5" x2="1287.4" y2="308.5" stroke="#000" stroke-width="2.8"/>
<line x1="1267.35" y1="370.5" x2="1287.4" y2="370.5" stroke="#000" stroke-width="2.8"/>
<line x1="1268.75" y1="366" x2="1286" y2="366" stroke="#000" stroke-width="2.8"/>
<line x1="1303" y1="280" x2="1303" y2="285.6" stroke="#000" stroke-width="2.8"/>
<line x1="1303" y1="336.5" x2="1303" y2="349.9" stroke="#000" stroke-width="2.8"/>
<line x1="1299" y1="280" x2="1307" y2="280" stroke="#000" stroke-width="2.8"/>
<line x1="1299" y1="349.9" x2="1307" y2="349.9" stroke="#000" stroke-width="2.8"/>
<line x1="1294.4" y1="285.6" x2="1294.4" y2="336.5" stroke="#000" stroke-width="2.8"/>
<line x1="1312.5" y1="285.6" x2="1312.5" y2="336.5" stroke="#000" stroke-width="2.8"/>
<line x1="1293" y1="285.6" x2="1313.9" y2="285.6" stroke="#000" stroke-width="2.8"/>
<line x1="1293" y1="336.5" x2="1313.9" y2="336.5" stroke="#000" stroke-width="2.8"/>
<line x1="1294.4" y1="314" x2="1312.5" y2="314" stroke="#000" stroke-width="2.8"/>
<line x1="1346.4" y1="425.5" x2="1346.4" y2="425.5" stroke="#000" stroke-width="2.5"/>
<line x1="1346.4" y1="427" x2="1346.4" y2="427" stroke="#000" stroke-width="2.5"/>
<line x1="1342.4" y1="425.5" x2="1350.4" y2="425.5" stroke="#000" stroke-width="2.5"/>
<line x1="1342.4" y1="427" x2="1350.4" y2="427" stroke="#000" stroke-width="2.5"/>
<line x1="1337" y1="425.5" x2="1337" y2="427" stroke="#000" stroke-width="2.5"/>
<line x1="1355.5" y1="425.5" x2="1355.5" y2="427" stroke="#000" stroke-width="2.5"/>
<line x1="1335.75" y1="425.5" x2="1356.75" y2="425.5" stroke="#000" stroke-width="2.5"/>
<line x1="1335.75" y1="427" x2="1356.75" y2="427" stroke="#000" stroke-width="2.5"/>
<line x1="1372" y1="425.5" x2="1372" y2="425.5" stroke="#000" stroke-width="2.5"/>
<line x1="1372" y1="427" x2="1372" y2="427" stroke="#000" stroke-width="2.5"/>
<line x1="1368" y1="425.5" x2="1376" y2="425.5" stroke="#000" stroke-width="2.5"/>
<line x1="1368" y1="427" x2="1376" y2="427" stroke="#000" stroke-width="2.5"/>
<line x1="1363" y1="425.5" x2="1363" y2="427" stroke="#000" stroke-width="2.5"/>
<line x1="1381" y1="425.5" x2="1381" y2="427" stroke="#000" stroke-width="2.5"/>
<line x1="1361.75" y1="425.5" x2="1382.25" y2="425.5" stroke="#000" stroke-width="2.5"/>
<line x1="1361.75" y1="427" x2="1382.25" y2="427" stroke="#000" stroke-width="2.5"/>
<line x1="1397.6" y1="394.5" x2="1397.6" y2="425.5" stroke="#000" stroke-width="2.5"/>
<line x1="1397.6" y1="427" x2="1397.6" y2="427" stroke="#000" stroke-width="2.5"/>
<line x1="1393.6" y1="394.5" x2="1401.6" y2="394.5" stroke="#000" stroke-width="2.5"/>
<line x1="1393.6" y1="427" x2="1401.6" y2="427" stroke="#000" stroke-width="2.5"/>
<line x1="1388.5" y1="425.5" x2="1388.5" y2="427" stroke="#000" stroke-width="2.5"/>
<line x1="1407" y1="425.5" x2="1407" y2="427" stroke="#000" stroke-width="2.5"/>
<line x1="1387.25" y1="425.5" x2="1408.25" y2="425.5" stroke="#000" stroke-width="2.5"/>
<line x1="1387.25" y1="427" x2="1408.25" y2="427" stroke="#000" stroke-width="2.5"/>
<line x1="1441.4" y1="406" x2="1441.4" y2="413.9" stroke="#000" stroke-width="2.5"/>
<line x1="1441.4" y1="425" x2="1441.4" y2="426" stroke="#000" stroke-width="2.5"/>
<line x1="1437.4" y1="406" x2="1445.4" y2="406" stroke="#000" stroke-width="2.5"/>
<line x1="1437.4" y1="426" x2="1445.4" y2="426" stroke="#000" stroke-width="2.5"/>
<line x1="1432.6" y1="413.9" x2="1432.6" y2="425" stroke="#000" stroke-width="2.5"/>
<line x1="1450" y1="413.9" x2="1450" y2="425" stroke="#000" stroke-width="2.5"/>
<line x1="1431.35" y1="413.9" x2="1451.25" y2="413.9" stroke="#000" stroke-width="2.5"/>
<line x1="1431.35" y1="425" x2="1451.25" y2="425" stroke="#000" stroke-width="2.5"/>
<line x1="1432.6" y1="422" x2="1450" y2="422" stroke="#000" stroke-width="2.5"/>
<line x1="1467" y1="424.5" x2="1467" y2="424.5" stroke="#000" stroke-width="2.5"/>
<line x1="1467" y1="426.5" x2="1467" y2="426.5" stroke="#000" stroke-width="2.5"/>
<line x1="1463" y1="424.5" x2="1471" y2="424.5" stroke="#000" stroke-width="2.5"/>
<line x1="1463" y1="426.5" x2="1471" y2="426.5" stroke="#000" stroke-width="2.5"/>
<line x1="1457.7" y1="424.5" x2="1457.7" y2="426.5" stroke="#000" stroke-width="2.5"/>
<line x1="1476.5" y1="424.5" x2="1476.5" y2="426.5" stroke="#000" stroke-width="2.5"/>
<line x1="1456.45" y1="424.5" x2="1477.75" y2="424.5" stroke="#000" stroke-width="2.5"/>
<line x1="1456.45" y1="426.5" x2="1477.75" y2="426.5" stroke="#000" stroke-width="2.5"/>
<line x1="1493" y1="425" x2="1493" y2="425" stroke="#000" stroke-width="2.5"/>
<line x1="1493" y1="427" x2="1493" y2="427" stroke="#000" stroke-width="2.5"/>
<line x1="1489" y1="425" x2="1497" y2="425" stroke="#000" stroke-width="2.5"/>
<line x1="1489" y1="427" x2="1497" y2="427" stroke="#000" stroke-width="2.5"/>
<line x1="1484" y1="425" x2="1484" y2="427" stroke="#000" stroke-width="2.5"/>
<line x1="1502" y1="425" x2="1502" y2="427" stroke="#000" stroke-width="2.5"/>
<line x1="1482.75" y1="425" x2="1503.25" y2="425" stroke="#000" stroke-width="2.5"/>
<line x1="1482.75" y1="427" x2="1503.25" y2="427" stroke="#000" stroke-width="2.5"/>
<circle cx="1154.6" cy="422.5" r="5.3" fill="#2f3e9b"/>
<circle cx="1158.5" cy="424" r="5.3" fill="#2f3e9b"/>
<circle cx="1156.5" cy="427" r="5.3" fill="#2f3e9b"/>
<circle cx="1180.3" cy="425" r="5.3" fill="#0d8040"/>
<circle cx="1184.1" cy="426" r="5.3" fill="#0d8040"/>
<circle cx="1182.2" cy="428" r="5.3" fill="#0d8040"/>
<circle cx="1206.6" cy="424" r="5.3" fill="#ed1c24"/>
<circle cx="1210.2" cy="425" r="5.3" fill="#ed1c24"/>
<circle cx="1208.4" cy="427.2" r="5.3" fill="#ed1c24"/>
<circle cx="1251.25" cy="269.75" r="5.3" fill="#2f3e9b"/>
<circle cx="1243.5" cy="340.9" r="5.3" fill="#2f3e9b"/>
<circle cx="1255.6" cy="344.9" r="5.3" fill="#2f3e9b"/>
<circle cx="1259.4" cy="356.5" r="5.3" fill="#2f3e9b"/>
<circle cx="1246.9" cy="360.5" r="5.3" fill="#2f3e9b"/>
<circle cx="1251.9" cy="364.25" r="5.3" fill="#2f3e9b"/>
<circle cx="1253.1" cy="359.9" r="5.3" fill="#2f3e9b"/>
<circle cx="1251.25" cy="376.1" r="5.3" fill="#2f3e9b"/>
<circle cx="1251.25" cy="398.9" r="5.3" fill="#2f3e9b"/>
<circle cx="1277.1" cy="239.1" r="5.3" fill="#0d8040"/>
<circle cx="1277.1" cy="285" r="5.3" fill="#0d8040"/>
<circle cx="1277.1" cy="332" r="5.3" fill="#0d8040"/>
<circle cx="1277.1" cy="351.1" r="5.3" fill="#0d8040"/>
<circle cx="1269.4" cy="366.75" r="5.3" fill="#0d8040"/>
<circle cx="1281.9" cy="369" r="5.3" fill="#0d8040"/>
<circle cx="1277.1" cy="373" r="5.3" fill="#0d8040"/>
<circle cx="1277.1" cy="386.1" r="5.3" fill="#0d8040"/>
<circle cx="1301.7" cy="280" r="5.3" fill="#ed1c24"/>
<circle cx="1304" cy="283.5" r="5.3" fill="#ed1c24"/>
<circle cx="1302.3" cy="287.5" r="5.3" fill="#ed1c24"/>
<circle cx="1304" cy="291.3" r="5.3" fill="#ed1c24"/>
<circle cx="1304.2" cy="310" r="5.3" fill="#ed1c24"/>
<circle cx="1302" cy="313.5" r="5.3" fill="#ed1c24"/>
<circle cx="1303.2" cy="318.5" r="5.3" fill="#ed1c24"/>
<circle cx="1302" cy="324.9" r="5.3" fill="#ed1c24"/>
<circle cx="1310.9" cy="340.5" r="5.3" fill="#ed1c24"/>
<circle cx="1298.75" cy="349.9" r="5.3" fill="#ed1c24"/>
<circle cx="1344.7" cy="421.5" r="5.3" fill="#2f3e9b"/>
<circle cx="1348" cy="423.5" r="5.3" fill="#2f3e9b"/>
<circle cx="1345.7" cy="426" r="5.3" fill="#2f3e9b"/>
<circle cx="1348.3" cy="427.5" r="5.3" fill="#2f3e9b"/>
<circle cx="1370.5" cy="425.3" r="5.3" fill="#0d8040"/>
<circle cx="1373.8" cy="426" r="5.3" fill="#0d8040"/>
<circle cx="1372" cy="428" r="5.3" fill="#0d8040"/>
<circle cx="1397.6" cy="394.5" r="5.3" fill="#ed1c24"/>
<circle cx="1390.3" cy="426.3" r="5.3" fill="#ed1c24"/>
<circle cx="1397.6" cy="426.3" r="5.3" fill="#ed1c24"/>
<circle cx="1405.5" cy="426.3" r="5.3" fill="#ed1c24"/>
<circle cx="1394" cy="426.3" r="5.3" fill="#ed1c24"/>
<circle cx="1401.5" cy="426.3" r="5.3" fill="#ed1c24"/>
<circle cx="1441.2" cy="406.2" r="5.3" fill="#2f3e9b"/>
<circle cx="1445.2" cy="409.9" r="5.3" fill="#2f3e9b"/>
<circle cx="1432.8" cy="423" r="5.3" fill="#2f3e9b"/>
<circle cx="1440.6" cy="423.2" r="5.3" fill="#2f3e9b"/>
<circle cx="1448.7" cy="423" r="5.3" fill="#2f3e9b"/>
<circle cx="1436.5" cy="423.3" r="5.3" fill="#2f3e9b"/>
<circle cx="1444.5" cy="423.3" r="5.3" fill="#2f3e9b"/>
<circle cx="1465.4" cy="422.3" r="5.3" fill="#0d8040"/>
<circle cx="1468.6" cy="423" r="5.3" fill="#0d8040"/>
<circle cx="1467" cy="424.8" r="5.3" fill="#0d8040"/>
<circle cx="1491.7" cy="423" r="5.3" fill="#ed1c24"/>
<circle cx="1494.7" cy="423.8" r="5.3" fill="#ed1c24"/>
<circle cx="1493.2" cy="425.6" r="5.3" fill="#ed1c24"/>
<text transform="translate(1155,408.5) scale(1,1.05)" font-size="21" text-anchor="middle">c</text>
<text transform="translate(1182.25,408.5) scale(1,1.05)" font-size="21" text-anchor="middle">c</text>
<text transform="translate(1209,408.5) scale(1,1.05)" font-size="21" text-anchor="middle">c</text>
<text transform="translate(1250.6,248.5) scale(1,1.05)" font-size="21" text-anchor="middle">b</text>
<text transform="translate(1281.1,223.1) scale(1,1.05)" font-size="21" text-anchor="middle" letter-spacing="1">ab</text>
<text transform="translate(1302.25,261.25) scale(1,1.05)" font-size="21" text-anchor="middle">a</text>
<text transform="translate(1346.4,406.4) scale(1,1.05)" font-size="21" text-anchor="middle">c</text>
<text transform="translate(1372,406.4) scale(1,1.05)" font-size="21" text-anchor="middle">c</text>
<text transform="translate(1398.5,381.4) scale(1,1.05)" font-size="21" text-anchor="middle">c</text>
<text transform="translate(1441.4,391) scale(1,1.05)" font-size="21" text-anchor="middle">c</text>
<text transform="translate(1466.4,397) scale(1,1.05)" font-size="21" text-anchor="middle">c</text>
<text transform="translate(1493.5,397) scale(1,1.05)" font-size="21" text-anchor="middle">c</text>
<line x1="229.4" y1="551.8" x2="229.4" y2="787.9" stroke="#000" stroke-width="2" stroke-dasharray="4.9 2.75"/>
<line x1="325.4" y1="551.8" x2="325.4" y2="787.9" stroke="#000" stroke-width="1.4" stroke-dasharray="4.9 2.75"/>
<line x1="417.25" y1="551.8" x2="417.25" y2="787.9" stroke="#000" stroke-width="1.4" stroke-dasharray="4.9 2.75"/>
<line x1="134" y1="534" x2="134" y2="789.45" stroke="#000" stroke-width="3.2"/>
<line x1="126.2" y1="787.9" x2="515.5" y2="787.9" stroke="#000" stroke-width="3.1"/>
<text transform="translate(123.8,794.8) scale(0.893,1)" font-size="22.8" text-anchor="end" letter-spacing="0.9">0</text>
<line x1="126.2" y1="737.4" x2="134" y2="737.4" stroke="#000" stroke-width="2.8"/>
<text transform="translate(134,744.3) scale(0.893,1)" font-size="22.8" letter-spacing="0.9" text-anchor="end"><tspan x="-60.8">5.0</tspan><tspan x="-55.21" dy="2" font-size="20.8" letter-spacing="0" text-anchor="middle">×</tspan><tspan x="-20.94" dy="-2">10</tspan><tspan x="-10.25" dy="-7.7" font-size="13.8" letter-spacing="0">7</tspan></text>
<line x1="126.2" y1="686.9" x2="134" y2="686.9" stroke="#000" stroke-width="2.8"/>
<text transform="translate(134,693.8) scale(0.893,1)" font-size="22.8" letter-spacing="0.9" text-anchor="end"><tspan x="-60.8">1.0</tspan><tspan x="-55.21" dy="2" font-size="20.8" letter-spacing="0" text-anchor="middle">×</tspan><tspan x="-20.94" dy="-2">10</tspan><tspan x="-10.25" dy="-7.7" font-size="13.8" letter-spacing="0">8</tspan></text>
<line x1="126.2" y1="636.4" x2="134" y2="636.4" stroke="#000" stroke-width="2.8"/>
<text transform="translate(134,643.3) scale(0.893,1)" font-size="22.8" letter-spacing="0.9" text-anchor="end"><tspan x="-60.8">1.5</tspan><tspan x="-55.21" dy="2" font-size="20.8" letter-spacing="0" text-anchor="middle">×</tspan><tspan x="-20.94" dy="-2">10</tspan><tspan x="-10.25" dy="-7.7" font-size="13.8" letter-spacing="0">8</tspan></text>
<line x1="126.2" y1="585.9" x2="134" y2="585.9" stroke="#000" stroke-width="2.8"/>
<text transform="translate(134,592.8) scale(0.893,1)" font-size="22.8" letter-spacing="0.9" text-anchor="end"><tspan x="-60.8">2.0</tspan><tspan x="-55.21" dy="2" font-size="20.8" letter-spacing="0" text-anchor="middle">×</tspan><tspan x="-20.94" dy="-2">10</tspan><tspan x="-10.25" dy="-7.7" font-size="13.8" letter-spacing="0">8</tspan></text>
<line x1="126.2" y1="535.4" x2="134" y2="535.4" stroke="#000" stroke-width="2.8"/>
<text transform="translate(134,542.3) scale(0.893,1)" font-size="22.8" letter-spacing="0.9" text-anchor="end"><tspan x="-60.8">2.5</tspan><tspan x="-55.21" dy="2" font-size="20.8" letter-spacing="0" text-anchor="middle">×</tspan><tspan x="-20.94" dy="-2">10</tspan><tspan x="-10.25" dy="-7.7" font-size="13.8" letter-spacing="0">8</tspan></text>
<line x1="181.1" y1="787.9" x2="181.1" y2="795.9" stroke="#000" stroke-width="2.4"/>
<text x="181.1" y="819.5" font-size="24.5" text-anchor="middle">0</text>
<line x1="276" y1="787.9" x2="276" y2="795.9" stroke="#000" stroke-width="2.4"/>
<text x="276" y="819.5" font-size="24.5" text-anchor="middle">6</text>
<line x1="371" y1="787.9" x2="371" y2="795.9" stroke="#000" stroke-width="2.4"/>
<text x="371" y="819.5" font-size="24.5" text-anchor="middle">12</text>
<line x1="465.75" y1="787.9" x2="465.75" y2="795.9" stroke="#000" stroke-width="2.4"/>
<text x="465.75" y="819.5" font-size="24.5" text-anchor="middle">18</text>
<text transform="translate(22.5,661.2) rotate(-90)" font-size="24.3" text-anchor="middle">16S rDNA copies ml<tspan font-size="15.5" dy="-10.2">-1</tspan></text>
<line x1="155.3" y1="730" x2="155.3" y2="745" stroke="#000" stroke-width="2.7"/>
<line x1="151.3" y1="730" x2="159.3" y2="730" stroke="#000" stroke-width="2.7"/>
<line x1="151.3" y1="745" x2="159.3" y2="745" stroke="#000" stroke-width="2.7"/>
<line x1="147.25" y1="736" x2="163.5" y2="736" stroke="#000" stroke-width="2.7"/>
<line x1="181.5" y1="623.4" x2="181.5" y2="671.5" stroke="#000" stroke-width="2.7"/>
<line x1="177.5" y1="623.4" x2="185.5" y2="623.4" stroke="#000" stroke-width="2.7"/>
<line x1="177.5" y1="671.5" x2="185.5" y2="671.5" stroke="#000" stroke-width="2.7"/>
<line x1="173" y1="635.4" x2="190" y2="635.4" stroke="#000" stroke-width="2.7"/>
<line x1="207" y1="667.6" x2="207" y2="674" stroke="#000" stroke-width="2.7"/>
<line x1="203" y1="667.6" x2="211" y2="667.6" stroke="#000" stroke-width="2.7"/>
<line x1="203" y1="674" x2="211" y2="674" stroke="#000" stroke-width="2.7"/>
<line x1="198.5" y1="670.3" x2="215.6" y2="670.3" stroke="#000" stroke-width="2.7"/>
<line x1="250" y1="735" x2="250" y2="745" stroke="#000" stroke-width="2.7"/>
<line x1="246" y1="735" x2="254" y2="735" stroke="#000" stroke-width="2.7"/>
<line x1="246" y1="745" x2="254" y2="745" stroke="#000" stroke-width="2.7"/>
<line x1="241.25" y1="738.1" x2="258.75" y2="738.1" stroke="#000" stroke-width="2.7"/>
<line x1="276" y1="668" x2="276" y2="680" stroke="#000" stroke-width="2.7"/>
<line x1="272" y1="668" x2="280" y2="668" stroke="#000" stroke-width="2.7"/>
<line x1="272" y1="680" x2="280" y2="680" stroke="#000" stroke-width="2.7"/>
<line x1="268" y1="676" x2="285" y2="676" stroke="#000" stroke-width="2.7"/>
<line x1="302" y1="675" x2="302" y2="687.5" stroke="#000" stroke-width="2.7"/>
<line x1="298" y1="675" x2="306" y2="675" stroke="#000" stroke-width="2.7"/>
<line x1="298" y1="687.5" x2="306" y2="687.5" stroke="#000" stroke-width="2.7"/>
<line x1="293.75" y1="679.75" x2="310" y2="679.75" stroke="#000" stroke-width="2.7"/>
<line x1="345.4" y1="719" x2="345.4" y2="725" stroke="#000" stroke-width="2"/>
<line x1="341.4" y1="719" x2="349.4" y2="719" stroke="#000" stroke-width="3"/>
<line x1="341.4" y1="725" x2="349.4" y2="725" stroke="#000" stroke-width="3"/>
<line x1="337" y1="722.6" x2="353.9" y2="722.6" stroke="#000" stroke-width="3"/>
<line x1="371" y1="628" x2="371" y2="720.5" stroke="#000" stroke-width="2"/>
<line x1="367" y1="628" x2="375" y2="628" stroke="#000" stroke-width="3"/>
<line x1="367" y1="720.5" x2="375" y2="720.5" stroke="#000" stroke-width="3"/>
<line x1="362" y1="648.6" x2="379" y2="648.6" stroke="#000" stroke-width="3"/>
<line x1="397" y1="564" x2="397" y2="595.25" stroke="#000" stroke-width="2"/>
<line x1="393" y1="564" x2="401" y2="564" stroke="#000" stroke-width="3"/>
<line x1="393" y1="595.25" x2="401" y2="595.25" stroke="#000" stroke-width="3"/>
<line x1="388.25" y1="573.75" x2="405" y2="573.75" stroke="#000" stroke-width="3"/>
<line x1="440.2" y1="753" x2="440.2" y2="764" stroke="#000" stroke-width="2"/>
<line x1="436.2" y1="753" x2="444.2" y2="753" stroke="#000" stroke-width="3"/>
<line x1="436.2" y1="764" x2="444.2" y2="764" stroke="#000" stroke-width="3"/>
<line x1="432" y1="760.4" x2="448.5" y2="760.4" stroke="#000" stroke-width="3"/>
<line x1="466.4" y1="693" x2="466.4" y2="710" stroke="#000" stroke-width="2"/>
<line x1="462.4" y1="693" x2="470.4" y2="693" stroke="#000" stroke-width="3"/>
<line x1="462.4" y1="710" x2="470.4" y2="710" stroke="#000" stroke-width="3"/>
<line x1="458" y1="708" x2="475" y2="708" stroke="#000" stroke-width="3"/>
<line x1="491.4" y1="752.75" x2="491.4" y2="772" stroke="#000" stroke-width="2"/>
<line x1="487.4" y1="752.75" x2="495.4" y2="752.75" stroke="#000" stroke-width="3"/>
<line x1="487.4" y1="772" x2="495.4" y2="772" stroke="#000" stroke-width="3"/>
<line x1="483" y1="756.5" x2="500" y2="756.5" stroke="#000" stroke-width="3"/>
<circle cx="155" cy="731.25" r="5.3" fill="#2f3e9b"/>
<circle cx="155.6" cy="737.5" r="5.3" fill="#2f3e9b"/>
<circle cx="155" cy="744.4" r="5.3" fill="#2f3e9b"/>
<circle cx="173.5" cy="623.4" r="5.3" fill="#0d8040"/>
<circle cx="185.6" cy="635.4" r="5.3" fill="#0d8040"/>
<circle cx="181.25" cy="671.5" r="5.3" fill="#0d8040"/>
<circle cx="206.9" cy="673" r="5.3" fill="#ed1c24"/>
<circle cx="250" cy="735.6" r="5.3" fill="#2f3e9b"/>
<circle cx="250" cy="740" r="5.3" fill="#2f3e9b"/>
<circle cx="250" cy="745" r="5.3" fill="#2f3e9b"/>
<circle cx="275" cy="668.1" r="5.3" fill="#0d8040"/>
<circle cx="276.9" cy="676.25" r="5.3" fill="#0d8040"/>
<circle cx="275.6" cy="680" r="5.3" fill="#0d8040"/>
<circle cx="301.25" cy="675.6" r="5.3" fill="#ed1c24"/>
<circle cx="303.1" cy="680" r="5.3" fill="#ed1c24"/>
<circle cx="301.9" cy="687.5" r="5.3" fill="#ed1c24"/>
<circle cx="345.4" cy="724.25" r="5.3" fill="#2f3e9b"/>
<circle cx="371.1" cy="627.9" r="5.3" fill="#0d8040"/>
<circle cx="371.1" cy="648.6" r="5.3" fill="#0d8040"/>
<circle cx="371.1" cy="720.5" r="5.3" fill="#0d8040"/>
<circle cx="389.25" cy="565" r="5.3" fill="#ed1c24"/>
<circle cx="401" cy="573.75" r="5.3" fill="#ed1c24"/>
<circle cx="396.75" cy="595.25" r="5.3" fill="#ed1c24"/>
<circle cx="439.5" cy="753.1" r="5.3" fill="#2f3e9b"/>
<circle cx="440.75" cy="760" r="5.3" fill="#2f3e9b"/>
<circle cx="440.1" cy="763.75" r="5.3" fill="#2f3e9b"/>
<circle cx="465.75" cy="693.6" r="5.3" fill="#0d8040"/>
<circle cx="461.75" cy="710.25" r="5.3" fill="#0d8040"/>
<circle cx="473.5" cy="707.75" r="5.3" fill="#0d8040"/>
<circle cx="484.25" cy="753.75" r="5.3" fill="#ed1c24"/>
<circle cx="496" cy="756.5" r="5.3" fill="#ed1c24"/>
<circle cx="491.75" cy="771.9" r="5.3" fill="#ed1c24"/>
<text transform="translate(156.1,720) scale(1,1.05)" font-size="21" text-anchor="middle" letter-spacing="1">cde</text>
<text transform="translate(179.25,609.4) scale(1,1.05)" font-size="21" text-anchor="middle" letter-spacing="1">ab</text>
<text transform="translate(201.75,696.5) scale(1,1.05)" font-size="21" text-anchor="middle" letter-spacing="1">bcde</text>
<text transform="translate(250.9,723.5) scale(1,1.05)" font-size="21" text-anchor="middle" letter-spacing="1">cde</text>
<text transform="translate(276.75,655.25) scale(1,1.05)" font-size="21" text-anchor="middle" letter-spacing="1">bc</text>
<text transform="translate(305.5,711.25) scale(1,1.05)" font-size="21" text-anchor="middle" letter-spacing="1">bcd</text>
<text transform="translate(355,748.75) scale(1,1.05)" font-size="21" text-anchor="middle" letter-spacing="1">bcde</text>
<text transform="translate(373.4,612.5) scale(1,1.05)" font-size="21" text-anchor="middle" letter-spacing="1">bc</text>
<text transform="translate(394.75,554) scale(1,1.05)" font-size="21" text-anchor="middle">a</text>
<text transform="translate(438,740.25) scale(1,1.05)" font-size="21" text-anchor="middle" letter-spacing="1">de</text>
<text transform="translate(466,682) scale(1,1.05)" font-size="21" text-anchor="middle" letter-spacing="1">bcde</text>
<text transform="translate(491,742.25) scale(1,1.05)" font-size="21" text-anchor="middle">e</text>
<text x="323" y="860" font-size="24.1" text-anchor="middle">Time after first feeding (h)</text>
<line x1="758.8" y1="553.3" x2="758.8" y2="787.9" stroke="#000" stroke-width="2" stroke-dasharray="4.9 2.75"/>
<line x1="856.8" y1="553.3" x2="856.8" y2="787.9" stroke="#000" stroke-width="2" stroke-dasharray="4.9 2.75"/>
<line x1="952" y1="553.3" x2="952" y2="787.9" stroke="#000" stroke-width="2" stroke-dasharray="4.9 2.75"/>
<line x1="665.6" y1="534.2" x2="665.6" y2="789.45" stroke="#000" stroke-width="2.9"/>
<line x1="657.8" y1="787.9" x2="1046" y2="787.9" stroke="#000" stroke-width="3.1"/>
<text transform="translate(655.4,794.8) scale(0.893,1)" font-size="22.8" text-anchor="end" letter-spacing="0.9">0</text>
<line x1="657.8" y1="724.8" x2="665.6" y2="724.8" stroke="#000" stroke-width="2.6"/>
<text transform="translate(665.6,731.7) scale(0.893,1)" font-size="22.8" letter-spacing="0.9" text-anchor="end"><tspan x="-60.8">2.0</tspan><tspan x="-55.21" dy="2" font-size="20.8" letter-spacing="0" text-anchor="middle">×</tspan><tspan x="-20.94" dy="-2">10</tspan><tspan x="-10.25" dy="-7.7" font-size="13.8" letter-spacing="0">7</tspan></text>
<line x1="657.8" y1="661.7" x2="665.6" y2="661.7" stroke="#000" stroke-width="2.6"/>
<text transform="translate(665.6,668.6) scale(0.893,1)" font-size="22.8" letter-spacing="0.9" text-anchor="end"><tspan x="-60.8">4.0</tspan><tspan x="-55.21" dy="2" font-size="20.8" letter-spacing="0" text-anchor="middle">×</tspan><tspan x="-20.94" dy="-2">10</tspan><tspan x="-10.25" dy="-7.7" font-size="13.8" letter-spacing="0">7</tspan></text>
<line x1="657.8" y1="598.6" x2="665.6" y2="598.6" stroke="#000" stroke-width="2.6"/>
<text transform="translate(665.6,605.5) scale(0.893,1)" font-size="22.8" letter-spacing="0.9" text-anchor="end"><tspan x="-60.8">6.0</tspan><tspan x="-55.21" dy="2" font-size="20.8" letter-spacing="0" text-anchor="middle">×</tspan><tspan x="-20.94" dy="-2">10</tspan><tspan x="-10.25" dy="-7.7" font-size="13.8" letter-spacing="0">7</tspan></text>
<line x1="657.8" y1="535.5" x2="665.6" y2="535.5" stroke="#000" stroke-width="2.6"/>
<text transform="translate(665.6,542.4) scale(0.893,1)" font-size="22.8" letter-spacing="0.9" text-anchor="end"><tspan x="-60.8">8.0</tspan><tspan x="-55.21" dy="2" font-size="20.8" letter-spacing="0" text-anchor="middle">×</tspan><tspan x="-20.94" dy="-2">10</tspan><tspan x="-10.25" dy="-7.7" font-size="13.8" letter-spacing="0">7</tspan></text>
<line x1="713.1" y1="787.9" x2="713.1" y2="795.9" stroke="#000" stroke-width="2.4"/>
<text x="713.1" y="819.5" font-size="24.5" text-anchor="middle">0</text>
<line x1="807.9" y1="787.9" x2="807.9" y2="795.9" stroke="#000" stroke-width="2.4"/>
<text x="807.9" y="819.5" font-size="24.5" text-anchor="middle">6</text>
<line x1="903.5" y1="787.9" x2="903.5" y2="795.9" stroke="#000" stroke-width="2.4"/>
<text x="903.5" y="819.5" font-size="24.5" text-anchor="middle">12</text>
<line x1="997.9" y1="787.9" x2="997.9" y2="795.9" stroke="#000" stroke-width="2.4"/>
<text x="997.9" y="819.5" font-size="24.5" text-anchor="middle">18</text>
<text transform="translate(555,661.2) rotate(-90)" font-size="24.3" text-anchor="middle">16S rRNA copies ml<tspan font-size="15.5" dy="-10.2">-1</tspan></text>
<line x1="686.9" y1="710" x2="686.9" y2="727.25" stroke="#000" stroke-width="3"/>
<line x1="682.9" y1="710" x2="690.9" y2="710" stroke="#000" stroke-width="2.6"/>
<line x1="682.9" y1="727.25" x2="690.9" y2="727.25" stroke="#000" stroke-width="2.6"/>
<line x1="678.75" y1="711.9" x2="695" y2="711.9" stroke="#000" stroke-width="2.6"/>
<line x1="713.1" y1="653.5" x2="713.1" y2="701" stroke="#000" stroke-width="3"/>
<line x1="709.1" y1="653.5" x2="717.1" y2="653.5" stroke="#000" stroke-width="2.6"/>
<line x1="709.1" y1="701" x2="717.1" y2="701" stroke="#000" stroke-width="2.6"/>
<line x1="704.4" y1="680" x2="721.9" y2="680" stroke="#000" stroke-width="2.6"/>
<line x1="738.75" y1="644" x2="738.75" y2="710.25" stroke="#000" stroke-width="3"/>
<line x1="734.75" y1="644" x2="742.75" y2="644" stroke="#000" stroke-width="2.6"/>
<line x1="734.75" y1="710.25" x2="742.75" y2="710.25" stroke="#000" stroke-width="2.6"/>
<line x1="731.25" y1="654" x2="748" y2="654" stroke="#000" stroke-width="2.6"/>
<line x1="773.75" y1="732.9" x2="791" y2="732.9" stroke="#000" stroke-width="2.8"/>
<line x1="808.1" y1="573.75" x2="808.1" y2="696.6" stroke="#000" stroke-width="2"/>
<line x1="804.1" y1="573.75" x2="812.1" y2="573.75" stroke="#000" stroke-width="2.8"/>
<line x1="804.1" y1="696.6" x2="812.1" y2="696.6" stroke="#000" stroke-width="2.8"/>
<line x1="799.4" y1="661.25" x2="816.9" y2="661.25" stroke="#000" stroke-width="2.8"/>
<line x1="834" y1="664" x2="834" y2="671" stroke="#000" stroke-width="2"/>
<line x1="830" y1="664" x2="838" y2="664" stroke="#000" stroke-width="2.8"/>
<line x1="830" y1="671" x2="838" y2="671" stroke="#000" stroke-width="2.8"/>
<line x1="825" y1="668.5" x2="842.5" y2="668.5" stroke="#000" stroke-width="2.8"/>
<line x1="877.6" y1="693.9" x2="877.6" y2="728.6" stroke="#000" stroke-width="3"/>
<line x1="873.6" y1="693.9" x2="881.6" y2="693.9" stroke="#000" stroke-width="2.8"/>
<line x1="873.6" y1="728.6" x2="881.6" y2="728.6" stroke="#000" stroke-width="2.8"/>
<line x1="869.1" y1="711.5" x2="885.75" y2="711.5" stroke="#000" stroke-width="2.8"/>
<line x1="894.5" y1="694.6" x2="911.75" y2="694.6" stroke="#000" stroke-width="2.8"/>
<line x1="929.4" y1="587" x2="929.4" y2="634" stroke="#000" stroke-width="2.2"/>
<line x1="925.4" y1="587" x2="933.4" y2="587" stroke="#000" stroke-width="2.8"/>
<line x1="925.4" y1="634" x2="933.4" y2="634" stroke="#000" stroke-width="2.8"/>
<line x1="920.6" y1="624.4" x2="938" y2="624.4" stroke="#000" stroke-width="2.8"/>
<line x1="972.4" y1="746" x2="972.4" y2="761" stroke="#000" stroke-width="3"/>
<line x1="968.4" y1="746" x2="976.4" y2="746" stroke="#000" stroke-width="2.8"/>
<line x1="968.4" y1="761" x2="976.4" y2="761" stroke="#000" stroke-width="2.8"/>
<line x1="964" y1="757" x2="981" y2="757" stroke="#000" stroke-width="2.8"/>
<line x1="997.6" y1="710" x2="997.6" y2="733.25" stroke="#000" stroke-width="3"/>
<line x1="993.6" y1="710" x2="1001.6" y2="710" stroke="#000" stroke-width="2.8"/>
<line x1="993.6" y1="733.25" x2="1001.6" y2="733.25" stroke="#000" stroke-width="2.8"/>
<line x1="989" y1="711.5" x2="1006" y2="711.5" stroke="#000" stroke-width="2.8"/>
<line x1="1016" y1="758.75" x2="1032.6" y2="758.75" stroke="#000" stroke-width="2.8"/>
<circle cx="686.9" cy="710.6" r="5.3" fill="#2f3e9b"/>
<circle cx="695.6" cy="712.25" r="5.3" fill="#2f3e9b"/>
<circle cx="682.9" cy="727.25" r="5.3" fill="#2f3e9b"/>
<circle cx="713.1" cy="653.5" r="5.3" fill="#0d8040"/>
<circle cx="713.1" cy="680" r="5.3" fill="#0d8040"/>
<circle cx="713.1" cy="701" r="5.3" fill="#0d8040"/>
<circle cx="731.5" cy="643.75" r="5.3" fill="#ed1c24"/>
<circle cx="743.1" cy="653.75" r="5.3" fill="#ed1c24"/>
<circle cx="739" cy="710.25" r="5.3" fill="#ed1c24"/>
<circle cx="781.9" cy="732.9" r="5.3" fill="#2f3e9b"/>
<circle cx="808.4" cy="573.75" r="5.3" fill="#0d8040"/>
<circle cx="808.1" cy="661.25" r="5.3" fill="#0d8040"/>
<circle cx="808.1" cy="696.6" r="5.3" fill="#0d8040"/>
<circle cx="833.75" cy="665" r="5.3" fill="#ed1c24"/>
<circle cx="834.4" cy="670.6" r="5.3" fill="#ed1c24"/>
<circle cx="877.6" cy="693.9" r="5.3" fill="#2f3e9b"/>
<circle cx="877.6" cy="711.5" r="5.3" fill="#2f3e9b"/>
<circle cx="877.6" cy="728.6" r="5.3" fill="#2f3e9b"/>
<circle cx="902.6" cy="694.3" r="5.3" fill="#0d8040"/>
<circle cx="903.9" cy="695" r="5.3" fill="#0d8040"/>
<circle cx="929.1" cy="586.9" r="5.3" fill="#ed1c24"/>
<circle cx="936.5" cy="624" r="5.3" fill="#ed1c24"/>
<circle cx="925" cy="633.75" r="5.3" fill="#ed1c24"/>
<circle cx="972.4" cy="746" r="5.3" fill="#2f3e9b"/>
<circle cx="980.5" cy="756.5" r="5.3" fill="#2f3e9b"/>
<circle cx="968.25" cy="761.25" r="5.3" fill="#2f3e9b"/>
<circle cx="990.75" cy="710.25" r="5.3" fill="#0d8040"/>
<circle cx="1002.6" cy="711.5" r="5.3" fill="#0d8040"/>
<circle cx="998.25" cy="733.25" r="5.3" fill="#0d8040"/>
<circle cx="1023.3" cy="758.2" r="5.3" fill="#ed1c24"/>
<circle cx="1025.3" cy="759.3" r="5.3" fill="#ed1c24"/>
<text transform="translate(687,700.2) scale(1,1.05)" font-size="21" text-anchor="middle" letter-spacing="1">bcd</text>
<text transform="translate(705,642.5) scale(1,1.05)" font-size="21" text-anchor="middle" letter-spacing="1">abc</text>
<text transform="translate(738.4,736) scale(1,1.05)" font-size="21" text-anchor="middle" letter-spacing="1">abc</text>
<text transform="translate(781.75,718.5) scale(1,1.05)" font-size="21" text-anchor="middle" letter-spacing="1">cd</text>
<text transform="translate(810.1,559) scale(1,1.05)" font-size="21" text-anchor="middle" letter-spacing="1">ab</text>
<text transform="translate(833.25,650.8) scale(1,1.05)" font-size="21" text-anchor="middle" letter-spacing="1">abc</text>
<text transform="translate(880,751.9) scale(1,1.05)" font-size="21" text-anchor="middle" letter-spacing="1">bcd</text>
<text transform="translate(911.9,684) scale(1,1.05)" font-size="21" text-anchor="middle" letter-spacing="1">bcd</text>
<text transform="translate(929,571.5) scale(1,1.05)" font-size="21" text-anchor="middle">a</text>
<text transform="translate(972.6,731.1) scale(1,1.05)" font-size="21" text-anchor="middle">d</text>
<text transform="translate(998.75,699.5) scale(1,1.05)" font-size="21" text-anchor="middle" letter-spacing="1">bcd</text>
<text transform="translate(1023.5,738.75) scale(1,1.05)" font-size="21" text-anchor="middle">d</text>
<text x="855" y="860" font-size="24.1" text-anchor="middle">Time after first feeding (h)</text>
<line x1="1229.75" y1="553.3" x2="1229.75" y2="787.9" stroke="#000" stroke-width="1.7" stroke-dasharray="4.9 2.75"/>
<line x1="1329.25" y1="553.3" x2="1329.25" y2="787.9" stroke="#000" stroke-width="2" stroke-dasharray="4.9 2.75"/>
<line x1="1421.4" y1="553.3" x2="1421.4" y2="787.9" stroke="#000" stroke-width="2" stroke-dasharray="4.9 2.75"/>
<line x1="1136.6" y1="534" x2="1136.6" y2="789.45" stroke="#000" stroke-width="2.5"/>
<line x1="1128.8" y1="787.9" x2="1516" y2="787.9" stroke="#000" stroke-width="3.1"/>
<text transform="translate(1127.6,795.1) scale(0.893,1)" font-size="22.8" text-anchor="end" letter-spacing="0.9">0.0</text>
<line x1="1128.8" y1="724.77" x2="1136.6" y2="724.77" stroke="#000" stroke-width="2.8"/>
<text transform="translate(1127.6,731.98) scale(0.893,1)" font-size="22.8" text-anchor="end" letter-spacing="0.9">0.2</text>
<line x1="1128.8" y1="661.65" x2="1136.6" y2="661.65" stroke="#000" stroke-width="2.8"/>
<text transform="translate(1127.6,668.85) scale(0.893,1)" font-size="22.8" text-anchor="end" letter-spacing="0.9">0.4</text>
<line x1="1128.8" y1="598.52" x2="1136.6" y2="598.52" stroke="#000" stroke-width="2.8"/>
<text transform="translate(1127.6,605.73) scale(0.893,1)" font-size="22.8" text-anchor="end" letter-spacing="0.9">0.6</text>
<line x1="1128.8" y1="535.4" x2="1136.6" y2="535.4" stroke="#000" stroke-width="2.8"/>
<text transform="translate(1127.6,542.6) scale(0.893,1)" font-size="22.8" text-anchor="end" letter-spacing="0.9">0.8</text>
<line x1="1183.8" y1="787.9" x2="1183.8" y2="795.9" stroke="#000" stroke-width="2.4"/>
<text x="1183.8" y="819.5" font-size="24.5" text-anchor="middle">0</text>
<line x1="1278.5" y1="787.9" x2="1278.5" y2="795.9" stroke="#000" stroke-width="2.4"/>
<text x="1278.5" y="819.5" font-size="24.5" text-anchor="middle">6</text>
<line x1="1373.5" y1="787.9" x2="1373.5" y2="795.9" stroke="#000" stroke-width="2.4"/>
<text x="1373.5" y="819.5" font-size="24.5" text-anchor="middle">12</text>
<line x1="1468.5" y1="787.9" x2="1468.5" y2="795.9" stroke="#000" stroke-width="2.4"/>
<text x="1468.5" y="819.5" font-size="24.5" text-anchor="middle">18</text>
<text transform="translate(1083.8,660.7) rotate(-90)" font-size="24.3" text-anchor="middle">Copies RNA / copies <tspan dx="6.6">DNA</tspan></text>
<line x1="1157.75" y1="614.1" x2="1157.75" y2="671.25" stroke="#000" stroke-width="2"/>
<line x1="1153.75" y1="614.1" x2="1161.75" y2="614.1" stroke="#000" stroke-width="2.6"/>
<line x1="1153.75" y1="671.25" x2="1161.75" y2="671.25" stroke="#000" stroke-width="2.6"/>
<line x1="1149" y1="652.25" x2="1166.25" y2="652.25" stroke="#000" stroke-width="2.6"/>
<line x1="1183.75" y1="693.1" x2="1183.75" y2="731" stroke="#000" stroke-width="2"/>
<line x1="1179.75" y1="693.1" x2="1187.75" y2="693.1" stroke="#000" stroke-width="2.6"/>
<line x1="1179.75" y1="731" x2="1187.75" y2="731" stroke="#000" stroke-width="2.6"/>
<line x1="1176" y1="706.5" x2="1192" y2="706.5" stroke="#000" stroke-width="2.6"/>
<line x1="1209.6" y1="674.4" x2="1209.6" y2="718.5" stroke="#000" stroke-width="2"/>
<line x1="1205.6" y1="674.4" x2="1213.6" y2="674.4" stroke="#000" stroke-width="2.6"/>
<line x1="1205.6" y1="718.5" x2="1213.6" y2="718.5" stroke="#000" stroke-width="2.6"/>
<line x1="1201.25" y1="696.25" x2="1218.5" y2="696.25" stroke="#000" stroke-width="2.6"/>
<line x1="1252.75" y1="665" x2="1252.75" y2="680.6" stroke="#000" stroke-width="2"/>
<line x1="1248.75" y1="665" x2="1256.75" y2="665" stroke="#000" stroke-width="2.6"/>
<line x1="1248.75" y1="680.6" x2="1256.75" y2="680.6" stroke="#000" stroke-width="2.6"/>
<line x1="1244" y1="679.75" x2="1261" y2="679.75" stroke="#000" stroke-width="2.6"/>
<line x1="1278.75" y1="595.25" x2="1278.75" y2="702.75" stroke="#000" stroke-width="2"/>
<line x1="1274.75" y1="595.25" x2="1282.75" y2="595.25" stroke="#000" stroke-width="2.6"/>
<line x1="1274.75" y1="702.75" x2="1282.75" y2="702.75" stroke="#000" stroke-width="2.6"/>
<line x1="1271" y1="680.6" x2="1286.9" y2="680.6" stroke="#000" stroke-width="2.6"/>
<line x1="1304.6" y1="665" x2="1304.6" y2="680.6" stroke="#000" stroke-width="2"/>
<line x1="1300.6" y1="665" x2="1308.6" y2="665" stroke="#000" stroke-width="2.6"/>
<line x1="1300.6" y1="680.6" x2="1308.6" y2="680.6" stroke="#000" stroke-width="2.6"/>
<line x1="1296" y1="679" x2="1313" y2="679" stroke="#000" stroke-width="2.6"/>
<line x1="1348" y1="674.4" x2="1348" y2="693" stroke="#000" stroke-width="2.7"/>
<line x1="1344" y1="674.4" x2="1352" y2="674.4" stroke="#000" stroke-width="2.9"/>
<line x1="1344" y1="693" x2="1352" y2="693" stroke="#000" stroke-width="2.9"/>
<line x1="1339.25" y1="683.75" x2="1356" y2="683.75" stroke="#000" stroke-width="2.9"/>
<line x1="1373.5" y1="649" x2="1373.5" y2="728.4" stroke="#000" stroke-width="2.7"/>
<line x1="1369.5" y1="649" x2="1377.5" y2="649" stroke="#000" stroke-width="2.9"/>
<line x1="1369.5" y1="728.4" x2="1377.5" y2="728.4" stroke="#000" stroke-width="2.9"/>
<line x1="1365.75" y1="689" x2="1382" y2="689" stroke="#000" stroke-width="2.9"/>
<line x1="1399.5" y1="696" x2="1399.5" y2="715" stroke="#000" stroke-width="2.7"/>
<line x1="1395.5" y1="696" x2="1403.5" y2="696" stroke="#000" stroke-width="2.9"/>
<line x1="1395.5" y1="715" x2="1403.5" y2="715" stroke="#000" stroke-width="2.9"/>
<line x1="1391.6" y1="702.9" x2="1408" y2="702.9" stroke="#000" stroke-width="2.9"/>
<line x1="1442.6" y1="658.75" x2="1442.6" y2="690.4" stroke="#000" stroke-width="2.5"/>
<line x1="1438.6" y1="658.75" x2="1446.6" y2="658.75" stroke="#000" stroke-width="2.7"/>
<line x1="1438.6" y1="690.4" x2="1446.6" y2="690.4" stroke="#000" stroke-width="2.7"/>
<line x1="1434" y1="665" x2="1451" y2="665" stroke="#000" stroke-width="2.7"/>
<line x1="1468.5" y1="690.4" x2="1468.5" y2="718.75" stroke="#000" stroke-width="2.5"/>
<line x1="1464.5" y1="690.4" x2="1472.5" y2="690.4" stroke="#000" stroke-width="2.7"/>
<line x1="1464.5" y1="718.75" x2="1472.5" y2="718.75" stroke="#000" stroke-width="2.7"/>
<line x1="1460" y1="706.5" x2="1477" y2="706.5" stroke="#000" stroke-width="2.7"/>
<line x1="1494.5" y1="607.75" x2="1494.5" y2="703" stroke="#000" stroke-width="2.5"/>
<line x1="1490.5" y1="607.75" x2="1498.5" y2="607.75" stroke="#000" stroke-width="2.7"/>
<line x1="1490.5" y1="703" x2="1498.5" y2="703" stroke="#000" stroke-width="2.7"/>
<line x1="1486.4" y1="693.1" x2="1503" y2="693.1" stroke="#000" stroke-width="2.7"/>
<circle cx="1157.75" cy="614.1" r="5.3" fill="#2f3e9b"/>
<circle cx="1157.75" cy="652.25" r="5.3" fill="#2f3e9b"/>
<circle cx="1157.75" cy="671.25" r="5.3" fill="#2f3e9b"/>
<circle cx="1176.25" cy="693.4" r="5.3" fill="#0d8040"/>
<circle cx="1188.1" cy="706" r="5.3" fill="#0d8040"/>
<circle cx="1183.5" cy="731" r="5.3" fill="#0d8040"/>
<circle cx="1209.75" cy="718.5" r="5.3" fill="#ed1c24"/>
<circle cx="1252.75" cy="665" r="5.3" fill="#2f3e9b"/>
<circle cx="1248.75" cy="680.6" r="5.3" fill="#2f3e9b"/>
<circle cx="1260.6" cy="677.9" r="5.3" fill="#2f3e9b"/>
<circle cx="1278.75" cy="595.25" r="5.3" fill="#0d8040"/>
<circle cx="1278.75" cy="680.6" r="5.3" fill="#0d8040"/>
<circle cx="1278.75" cy="702.75" r="5.3" fill="#0d8040"/>
<circle cx="1304.6" cy="665" r="5.3" fill="#ed1c24"/>
<circle cx="1300" cy="680.6" r="5.3" fill="#ed1c24"/>
<circle cx="1312.5" cy="677.9" r="5.3" fill="#ed1c24"/>
<circle cx="1347.9" cy="693.1" r="5.3" fill="#2f3e9b"/>
<circle cx="1373.5" cy="728.4" r="5.3" fill="#0d8040"/>
<circle cx="1399.5" cy="696.6" r="5.3" fill="#ed1c24"/>
<circle cx="1407" cy="702.9" r="5.3" fill="#ed1c24"/>
<circle cx="1395.5" cy="715.25" r="5.3" fill="#ed1c24"/>
<circle cx="1435.4" cy="658.5" r="5.3" fill="#2f3e9b"/>
<circle cx="1447.25" cy="665" r="5.3" fill="#2f3e9b"/>
<circle cx="1442.6" cy="690.4" r="5.3" fill="#2f3e9b"/>
<circle cx="1468.5" cy="690.4" r="5.3" fill="#0d8040"/>
<circle cx="1476" cy="706" r="5.3" fill="#0d8040"/>
<circle cx="1464.25" cy="718.75" r="5.3" fill="#0d8040"/>
<circle cx="1494.5" cy="607.75" r="5.3" fill="#ed1c24"/>
<circle cx="1502" cy="693.1" r="5.3" fill="#ed1c24"/>
<circle cx="1490.5" cy="702.9" r="5.3" fill="#ed1c24"/>
<text x="1326" y="860" font-size="24.1" text-anchor="middle">Time after first feeding (h)</text>
</svg>
</body></html>
